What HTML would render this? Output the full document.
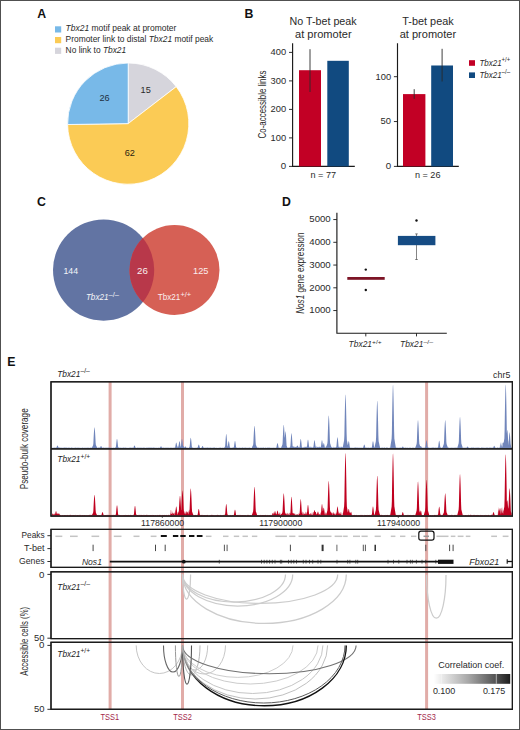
<!DOCTYPE html>
<html><head><meta charset="utf-8"><style>
html,body{margin:0;padding:0;background:#fff;}
svg{display:block;font-family:"Liberation Sans", sans-serif;}
</style></head><body>
<svg width="520" height="730" viewBox="0 0 520 730">
<rect width="520" height="730" fill="#fff"/>
<text x="37.20" y="17.50" font-size="12.3" font-weight="bold" fill="#111" >A</text>
<rect x="55" y="26.3" width="6.2" height="6.2" fill="#78b9e8"/>
<text x="65.60" y="31.30" font-size="8.8" fill="#2a2a2a" textLength="110.70" lengthAdjust="spacingAndGlyphs" ><tspan font-style="italic">Tbx21</tspan> motif peak at promoter</text>
<rect x="55" y="37.0" width="6.2" height="6.2" fill="#fbcb55"/>
<text x="65.60" y="42.10" font-size="8.8" fill="#2a2a2a" textLength="147.60" lengthAdjust="spacingAndGlyphs" >Promoter link to distal <tspan font-style="italic">Tbx21</tspan> motif peak</text>
<rect x="55" y="47.7" width="6.2" height="6.2" fill="#d6d5dc"/>
<text x="65.60" y="52.90" font-size="8.8" fill="#2a2a2a" textLength="60.60" lengthAdjust="spacingAndGlyphs" >No link to <tspan font-style="italic">Tbx21</tspan></text>
<path d="M128.2,123.6 L128.20,63.00 A60.6,60.6 0 0 1 176.23,86.65 Z" fill="#d6d5dc" stroke="#fff" stroke-width="0.8"/>
<path d="M128.2,123.6 L176.23,86.65 A60.6,60.6 0 1 1 67.61,124.52 Z" fill="#fbcb55" stroke="#fff" stroke-width="0.8"/>
<path d="M128.2,123.6 L67.61,124.52 A60.6,60.6 0 0 1 128.20,63.00 Z" fill="#78b9e8" stroke="#fff" stroke-width="0.8"/>
<text x="104.60" y="100.50" font-size="9.4" text-anchor="middle" fill="#223040" textLength="10.20" lengthAdjust="spacingAndGlyphs" >26</text>
<text x="145.70" y="93.40" font-size="9.4" text-anchor="middle" fill="#2a2a2a" textLength="10.20" lengthAdjust="spacingAndGlyphs" >15</text>
<text x="129.80" y="156.30" font-size="9.4" text-anchor="middle" fill="#2a2410" textLength="10.20" lengthAdjust="spacingAndGlyphs" >62</text>
<text x="244.40" y="17.50" font-size="12.3" font-weight="bold" fill="#111" >B</text>
<path d="M292.6,43.3 V166.4 H354.8" fill="none" stroke="#1a1a1a" stroke-width="1.15"/>
<line x1="289.0" y1="166.40" x2="292.6" y2="166.40" stroke="#1a1a1a" stroke-width="0.9"/>
<text x="286.20" y="169.20" font-size="9.4" text-anchor="end" fill="#2a2a2a" textLength="5.40" lengthAdjust="spacingAndGlyphs" >0</text>
<line x1="289.0" y1="137.90" x2="292.6" y2="137.90" stroke="#1a1a1a" stroke-width="0.9"/>
<text x="286.20" y="140.70" font-size="9.4" text-anchor="end" fill="#2a2a2a" textLength="15.60" lengthAdjust="spacingAndGlyphs" >100</text>
<line x1="289.0" y1="109.40" x2="292.6" y2="109.40" stroke="#1a1a1a" stroke-width="0.9"/>
<text x="286.20" y="112.20" font-size="9.4" text-anchor="end" fill="#2a2a2a" textLength="15.60" lengthAdjust="spacingAndGlyphs" >200</text>
<line x1="289.0" y1="80.90" x2="292.6" y2="80.90" stroke="#1a1a1a" stroke-width="0.9"/>
<text x="286.20" y="83.70" font-size="9.4" text-anchor="end" fill="#2a2a2a" textLength="15.60" lengthAdjust="spacingAndGlyphs" >300</text>
<line x1="289.0" y1="52.40" x2="292.6" y2="52.40" stroke="#1a1a1a" stroke-width="0.9"/>
<text x="286.20" y="55.20" font-size="9.4" text-anchor="end" fill="#2a2a2a" textLength="15.60" lengthAdjust="spacingAndGlyphs" >400</text>
<rect x="299.0" y="70.21" width="22.0" height="96.19" fill="#c20025"/>
<line x1="310.0" y1="49.2" x2="310.0" y2="92.0" stroke="#2a2a2a" stroke-width="0.9"/>
<rect x="327.3" y="60.81" width="21.5" height="105.59" fill="#114a80"/>
<text x="289.60" y="25.00" font-size="11.0" fill="#2a2a2a" textLength="67.00" lengthAdjust="spacingAndGlyphs" >No T-bet peak</text>
<text x="295.00" y="37.50" font-size="11.0" fill="#2a2a2a" textLength="56.60" lengthAdjust="spacingAndGlyphs" >at promoter</text>
<text x="323.30" y="177.80" font-size="9.0" text-anchor="middle" fill="#2a2a2a" textLength="25.60" lengthAdjust="spacingAndGlyphs" >n = 77</text>
<path d="M397.5,43.3 V166.4 H458.8" fill="none" stroke="#1a1a1a" stroke-width="1.15"/>
<line x1="393.9" y1="166.40" x2="397.5" y2="166.40" stroke="#1a1a1a" stroke-width="0.9"/>
<text x="391.10" y="169.20" font-size="9.4" text-anchor="end" fill="#2a2a2a" textLength="5.40" lengthAdjust="spacingAndGlyphs" >0</text>
<line x1="393.9" y1="121.55" x2="397.5" y2="121.55" stroke="#1a1a1a" stroke-width="0.9"/>
<text x="391.10" y="124.35" font-size="9.4" text-anchor="end" fill="#2a2a2a" textLength="10.50" lengthAdjust="spacingAndGlyphs" >50</text>
<line x1="393.9" y1="76.70" x2="397.5" y2="76.70" stroke="#1a1a1a" stroke-width="0.9"/>
<text x="391.10" y="79.50" font-size="9.4" text-anchor="end" fill="#2a2a2a" textLength="15.60" lengthAdjust="spacingAndGlyphs" >100</text>
<rect x="403.0" y="94.10" width="22.399999999999977" height="72.30" fill="#c20025"/>
<line x1="414.2" y1="89.2" x2="414.2" y2="98.8" stroke="#2a2a2a" stroke-width="0.9"/>
<rect x="431.2" y="65.49" width="21.80000000000001" height="100.91" fill="#114a80"/>
<line x1="442.1" y1="48.8" x2="442.1" y2="81.5" stroke="#2a2a2a" stroke-width="0.9"/>
<text x="402.30" y="25.00" font-size="11.0" fill="#2a2a2a" textLength="51.40" lengthAdjust="spacingAndGlyphs" >T-bet peak</text>
<text x="399.70" y="37.50" font-size="11.0" fill="#2a2a2a" textLength="56.40" lengthAdjust="spacingAndGlyphs" >at promoter</text>
<text x="427.70" y="177.80" font-size="9.0" text-anchor="middle" fill="#2a2a2a" textLength="25.60" lengthAdjust="spacingAndGlyphs" >n = 26</text>
<text transform="translate(265.90,104.50) rotate(-90)" font-size="10.3" text-anchor="middle" fill="#2a2a2a" textLength="67.9" lengthAdjust="spacingAndGlyphs">Co-accessible links</text>
<rect x="469" y="60.2" width="6" height="5.6" fill="#c20025"/>
<rect x="469" y="72.4" width="6" height="5.6" fill="#114a80"/>
<text x="479.40" y="65.70" font-size="9.0" font-style="italic" fill="#2a2a2a" text-anchor="start"><tspan textLength="22.20" lengthAdjust="spacingAndGlyphs">Tbx21</tspan><tspan font-size="6.30" dy="-3.60" font-style="normal" textLength="8.60" lengthAdjust="spacingAndGlyphs">+/+</tspan></text>
<text x="479.40" y="77.90" font-size="9.0" font-style="italic" fill="#2a2a2a" text-anchor="start"><tspan textLength="22.20" lengthAdjust="spacingAndGlyphs">Tbx21</tspan><tspan font-size="6.30" dy="-3.60" font-style="normal" textLength="8.60" lengthAdjust="spacingAndGlyphs">–/–</tspan></text>
<text x="37.00" y="205.60" font-size="12.3" font-weight="bold" fill="#111" >C</text>
<circle cx="103.6" cy="270.1" r="50.6" fill="#6274a3"/>
<circle cx="174.5" cy="270" r="45" fill="#d66055"/>
<clipPath id="cb"><circle cx="103.6" cy="270.1" r="50.6"/></clipPath>
<circle cx="174.5" cy="270" r="45" fill="#b8384a" clip-path="url(#cb)"/>
<text x="70.80" y="273.90" font-size="9.4" text-anchor="middle" fill="#f4f4f8" textLength="14.60" lengthAdjust="spacingAndGlyphs" >144</text>
<text x="142.40" y="273.90" font-size="9.4" text-anchor="middle" fill="#f8eeee" textLength="10.80" lengthAdjust="spacingAndGlyphs" >26</text>
<text x="200.70" y="273.90" font-size="9.4" text-anchor="middle" fill="#fbeeee" textLength="15.40" lengthAdjust="spacingAndGlyphs" >125</text>
<text x="85.90" y="300.40" font-size="9.2" font-style="italic" fill="#f4f4f8" text-anchor="start"><tspan textLength="22.60" lengthAdjust="spacingAndGlyphs">Tbx21</tspan><tspan font-size="6.44" dy="-3.68" font-style="normal" textLength="10.40" lengthAdjust="spacingAndGlyphs">–/–</tspan></text>
<text x="157.80" y="300.40" font-size="9.2" font-style="normal" fill="#fbeeee" text-anchor="start"><tspan textLength="22.60" lengthAdjust="spacingAndGlyphs">Tbx21</tspan><tspan font-size="6.44" dy="-3.68" font-style="normal" textLength="10.80" lengthAdjust="spacingAndGlyphs">+/+</tspan></text>
<text x="282.00" y="205.60" font-size="12.3" font-weight="bold" fill="#111" >D</text>
<path d="M336.9,212.8 V333.2 H446.8" fill="none" stroke="#1a1a1a" stroke-width="1.15"/>
<line x1="333.29999999999995" y1="310.55" x2="336.9" y2="310.55" stroke="#1a1a1a" stroke-width="0.9"/>
<text x="330.70" y="313.35" font-size="9.4" text-anchor="end" fill="#2a2a2a" textLength="21.40" lengthAdjust="spacingAndGlyphs" >1000</text>
<line x1="333.29999999999995" y1="287.80" x2="336.9" y2="287.80" stroke="#1a1a1a" stroke-width="0.9"/>
<text x="330.70" y="290.60" font-size="9.4" text-anchor="end" fill="#2a2a2a" textLength="21.40" lengthAdjust="spacingAndGlyphs" >2000</text>
<line x1="333.29999999999995" y1="265.05" x2="336.9" y2="265.05" stroke="#1a1a1a" stroke-width="0.9"/>
<text x="330.70" y="267.85" font-size="9.4" text-anchor="end" fill="#2a2a2a" textLength="21.40" lengthAdjust="spacingAndGlyphs" >3000</text>
<line x1="333.29999999999995" y1="242.30" x2="336.9" y2="242.30" stroke="#1a1a1a" stroke-width="0.9"/>
<text x="330.70" y="245.10" font-size="9.4" text-anchor="end" fill="#2a2a2a" textLength="21.40" lengthAdjust="spacingAndGlyphs" >4000</text>
<line x1="333.29999999999995" y1="219.55" x2="336.9" y2="219.55" stroke="#1a1a1a" stroke-width="0.9"/>
<text x="330.70" y="222.35" font-size="9.4" text-anchor="end" fill="#2a2a2a" textLength="21.40" lengthAdjust="spacingAndGlyphs" >5000</text>
<line x1="365.8" y1="333.2" x2="365.8" y2="336.4" stroke="#1a1a1a" stroke-width="0.9"/>
<line x1="416.5" y1="333.2" x2="416.5" y2="336.4" stroke="#1a1a1a" stroke-width="0.9"/>
<text transform="translate(304.30,273.20) rotate(-90)" font-size="10.3" text-anchor="middle" fill="#2a2a2a" textLength="81.3" lengthAdjust="spacingAndGlyphs"><tspan font-style="italic">Nos1</tspan> gene expression</text>
<rect x="347.3" y="277" width="37.4" height="2.8" fill="#7d1426"/>
<circle cx="365.8" cy="269.6" r="1.2" fill="#111"/>
<circle cx="365.8" cy="290.0" r="1.2" fill="#111"/>
<circle cx="416.5" cy="220.5" r="1.2" fill="#111"/>
<line x1="416.5" y1="233.9" x2="416.5" y2="259.5" stroke="#333" stroke-width="0.6"/>
<line x1="415.2" y1="233.9" x2="417.8" y2="233.9" stroke="#333" stroke-width="0.6"/>
<line x1="415.2" y1="259.5" x2="417.8" y2="259.5" stroke="#333" stroke-width="0.6"/>
<rect x="397.9" y="235.9" width="37.5" height="9.3" fill="#164c84"/>
<text x="348.60" y="347.10" font-size="8.8" font-style="italic" fill="#2a2a2a" text-anchor="start"><tspan textLength="23.40" lengthAdjust="spacingAndGlyphs">Tbx21</tspan><tspan font-size="6.16" dy="-3.52" font-style="normal" textLength="9.60" lengthAdjust="spacingAndGlyphs">+/+</tspan></text>
<text x="400.00" y="347.10" font-size="8.8" font-style="italic" fill="#2a2a2a" text-anchor="start"><tspan textLength="23.40" lengthAdjust="spacingAndGlyphs">Tbx21</tspan><tspan font-size="6.16" dy="-3.52" font-style="normal" textLength="9.60" lengthAdjust="spacingAndGlyphs">–/–</tspan></text>
<text x="7.30" y="365.50" font-size="12.3" font-weight="bold" fill="#111" >E</text>
<text x="57.20" y="376.70" font-size="9.4" font-style="italic" fill="#1c1c1c" text-anchor="start"><tspan textLength="23.20" lengthAdjust="spacingAndGlyphs">Tbx21</tspan><tspan font-size="6.58" dy="-3.76" font-style="normal" textLength="9.40" lengthAdjust="spacingAndGlyphs">–/–</tspan></text>
<text x="510.30" y="377.70" font-size="8.9" text-anchor="end" fill="#2a2a2a" textLength="17.20" lengthAdjust="spacingAndGlyphs" >chr5</text>
<rect x="108.6" y="381.8" width="3" height="327.6" fill="#e1aca8"/>
<rect x="181.0" y="381.8" width="3" height="327.6" fill="#e1aca8"/>
<rect x="425.1" y="381.8" width="3" height="327.6" fill="#e1aca8"/>
<path d="M51.6,448.2 L51.60,447.82 L51.85,447.69 L52.10,447.76 L52.35,447.67 L52.60,447.66 L52.85,447.89 L53.10,447.91 L53.35,447.57 L53.60,447.81 L53.85,447.82 L54.10,447.50 L54.35,447.72 L54.60,447.57 L54.85,447.72 L55.10,447.65 L55.35,447.86 L55.60,447.65 L55.85,447.56 L56.10,447.70 L56.35,447.61 L56.60,447.32 L56.85,446.58 L57.10,446.00 L57.35,445.60 L57.60,445.55 L57.85,445.90 L58.10,446.45 L58.35,447.16 L58.60,447.62 L58.85,447.55 L59.10,447.62 L59.35,447.53 L59.60,447.75 L59.85,447.58 L60.10,447.73 L60.35,447.53 L60.60,447.55 L60.85,447.88 L61.10,447.86 L61.35,447.83 L61.60,447.51 L61.85,447.74 L62.10,447.66 L62.35,447.79 L62.60,447.71 L62.85,447.76 L63.10,447.77 L63.35,447.67 L63.60,447.67 L63.85,447.54 L64.10,447.63 L64.35,447.53 L64.60,447.56 L64.85,447.50 L65.10,447.64 L65.35,447.85 L65.60,447.56 L65.85,447.51 L66.10,447.54 L66.35,447.68 L66.60,447.62 L66.85,447.83 L67.10,447.57 L67.35,447.68 L67.60,447.80 L67.85,447.89 L68.10,447.56 L68.35,447.50 L68.60,447.88 L68.85,447.58 L69.10,447.75 L69.35,447.86 L69.60,447.80 L69.85,447.60 L70.10,447.55 L70.35,447.90 L70.60,447.66 L70.85,447.90 L71.10,447.62 L71.35,447.78 L71.60,447.55 L71.85,447.51 L72.10,447.71 L72.35,447.50 L72.60,447.79 L72.85,447.89 L73.10,447.67 L73.35,447.91 L73.60,447.84 L73.85,447.75 L74.10,447.66 L74.35,447.85 L74.60,447.90 L74.85,447.56 L75.10,447.79 L75.35,447.52 L75.60,447.54 L75.85,447.76 L76.10,447.73 L76.35,447.70 L76.60,447.65 L76.85,447.67 L77.10,447.69 L77.35,447.66 L77.60,447.52 L77.85,447.71 L78.10,447.74 L78.35,447.62 L78.60,447.82 L78.85,447.79 L79.10,447.51 L79.35,447.70 L79.60,447.69 L79.85,447.92 L80.10,447.75 L80.35,447.68 L80.60,447.91 L80.85,447.66 L81.10,447.65 L81.35,447.89 L81.60,447.66 L81.85,447.72 L82.10,447.63 L82.35,447.77 L82.60,447.62 L82.85,447.61 L83.10,447.91 L83.35,447.89 L83.60,447.64 L83.85,447.52 L84.10,447.81 L84.35,447.73 L84.60,447.67 L84.85,447.79 L85.10,447.77 L85.35,447.79 L85.60,447.76 L85.85,447.67 L86.10,447.79 L86.35,447.76 L86.60,447.60 L86.85,447.91 L87.10,447.68 L87.35,447.61 L87.60,447.79 L87.85,447.83 L88.10,447.58 L88.35,447.82 L88.60,447.84 L88.85,447.74 L89.10,447.63 L89.35,447.88 L89.60,447.78 L89.85,447.78 L90.10,447.57 L90.35,447.74 L90.60,447.56 L90.85,447.85 L91.10,447.78 L91.35,447.65 L91.60,447.55 L91.85,447.69 L92.10,447.18 L92.35,446.66 L92.60,446.15 L92.85,445.64 L93.10,445.13 L93.35,443.40 L93.60,438.08 L93.85,433.58 L94.10,430.03 L94.35,427.63 L94.60,427.33 L94.85,429.45 L95.10,432.79 L95.35,437.11 L95.60,442.28 L95.85,445.03 L96.10,445.54 L96.35,446.05 L96.60,446.56 L96.85,447.07 L97.10,447.53 L97.35,447.85 L97.60,447.92 L97.85,447.52 L98.10,447.55 L98.35,447.51 L98.60,447.74 L98.85,447.52 L99.10,447.53 L99.35,447.83 L99.60,447.61 L99.85,447.57 L100.10,447.49 L100.35,446.88 L100.60,446.41 L100.85,446.08 L101.10,446.04 L101.35,446.33 L101.60,446.78 L101.85,447.36 L102.10,447.58 L102.35,447.90 L102.60,447.54 L102.85,447.63 L103.10,447.53 L103.35,447.54 L103.60,447.54 L103.85,447.68 L104.10,447.91 L104.35,447.61 L104.60,447.85 L104.85,447.79 L105.10,447.64 L105.35,447.70 L105.60,447.75 L105.85,447.53 L106.10,447.66 L106.35,447.78 L106.60,447.81 L106.85,447.56 L107.10,447.72 L107.35,447.59 L107.60,447.77 L107.85,447.84 L108.10,447.70 L108.35,447.58 L108.60,447.85 L108.85,447.59 L109.10,447.53 L109.35,447.58 L109.60,447.57 L109.85,447.92 L110.10,447.66 L110.35,447.56 L110.60,447.90 L110.85,447.81 L111.10,447.81 L111.35,447.70 L111.60,447.74 L111.85,447.72 L112.10,447.59 L112.35,447.92 L112.60,447.90 L112.85,447.87 L113.10,447.87 L113.35,447.89 L113.60,447.51 L113.85,447.56 L114.10,447.88 L114.35,447.71 L114.60,447.79 L114.85,447.79 L115.10,447.77 L115.35,447.53 L115.60,447.23 L115.85,446.93 L116.10,445.12 L116.35,442.51 L116.60,440.45 L116.85,439.07 L117.10,438.89 L117.35,440.12 L117.60,442.05 L117.85,444.56 L118.10,446.87 L118.35,447.17 L118.60,447.47 L118.85,447.76 L119.10,447.58 L119.35,447.66 L119.60,447.74 L119.85,447.76 L120.10,447.71 L120.35,447.62 L120.60,447.74 L120.85,447.63 L121.10,447.73 L121.35,447.82 L121.60,447.69 L121.85,447.63 L122.10,447.89 L122.35,447.74 L122.60,447.74 L122.85,447.55 L123.10,447.53 L123.35,447.76 L123.60,447.54 L123.85,447.59 L124.10,447.81 L124.35,447.73 L124.60,447.87 L124.85,447.58 L125.10,447.64 L125.35,447.55 L125.60,447.59 L125.85,447.64 L126.10,447.61 L126.35,447.68 L126.60,447.88 L126.85,447.67 L127.10,447.92 L127.35,447.86 L127.60,447.59 L127.85,447.90 L128.10,447.88 L128.35,447.88 L128.60,447.55 L128.85,447.84 L129.10,447.91 L129.35,447.57 L129.60,447.87 L129.85,447.57 L130.10,447.64 L130.35,447.57 L130.60,447.52 L130.85,447.68 L131.10,447.58 L131.35,447.90 L131.60,447.60 L131.85,447.71 L132.10,447.62 L132.35,447.88 L132.60,447.61 L132.85,447.53 L133.10,447.89 L133.35,447.78 L133.60,447.32 L133.85,446.58 L134.10,446.00 L134.35,445.60 L134.60,445.55 L134.85,445.90 L135.10,446.45 L135.35,447.16 L135.60,447.77 L135.85,447.75 L136.10,447.77 L136.35,447.74 L136.60,447.89 L136.85,447.71 L137.10,447.51 L137.35,447.75 L137.60,447.61 L137.85,447.85 L138.10,447.63 L138.35,447.60 L138.60,447.64 L138.85,447.70 L139.10,447.72 L139.35,447.65 L139.60,447.54 L139.85,447.86 L140.10,447.88 L140.35,447.61 L140.60,447.54 L140.85,447.70 L141.10,447.73 L141.35,447.62 L141.60,447.84 L141.85,447.81 L142.10,447.84 L142.35,447.67 L142.60,447.79 L142.85,447.82 L143.10,447.63 L143.35,447.52 L143.60,447.80 L143.85,447.62 L144.10,447.75 L144.35,447.56 L144.60,447.67 L144.85,447.81 L145.10,447.83 L145.35,447.91 L145.60,447.72 L145.85,447.76 L146.10,447.85 L146.35,447.77 L146.60,447.78 L146.85,447.59 L147.10,447.86 L147.35,447.50 L147.60,447.72 L147.85,447.67 L148.10,447.72 L148.35,447.57 L148.60,447.57 L148.85,447.69 L149.10,447.72 L149.35,447.62 L149.60,447.56 L149.85,447.75 L150.10,447.61 L150.35,447.52 L150.60,447.72 L150.85,447.82 L151.10,447.82 L151.35,447.62 L151.60,447.64 L151.85,447.52 L152.10,447.56 L152.35,447.82 L152.60,447.84 L152.85,447.81 L153.10,447.84 L153.35,447.62 L153.60,447.56 L153.85,447.54 L154.10,447.81 L154.35,447.56 L154.60,447.79 L154.85,447.74 L155.10,447.61 L155.35,447.88 L155.60,447.88 L155.85,447.57 L156.10,447.80 L156.35,447.77 L156.60,447.68 L156.85,447.64 L157.10,447.92 L157.35,447.78 L157.60,447.74 L157.85,447.72 L158.10,447.83 L158.35,447.67 L158.60,447.52 L158.85,447.76 L159.10,447.69 L159.35,447.87 L159.60,447.80 L159.85,447.64 L160.10,447.58 L160.35,447.06 L160.60,446.65 L160.85,446.37 L161.10,446.34 L161.35,446.58 L161.60,446.97 L161.85,447.47 L162.10,447.80 L162.35,447.64 L162.60,447.65 L162.85,447.58 L163.10,447.81 L163.35,447.60 L163.60,447.52 L163.85,447.64 L164.10,447.69 L164.35,447.87 L164.60,447.71 L164.85,447.77 L165.10,447.62 L165.35,447.64 L165.60,447.68 L165.85,447.84 L166.10,447.65 L166.35,447.66 L166.60,447.84 L166.85,447.55 L167.10,447.64 L167.35,447.87 L167.60,447.53 L167.85,447.86 L168.10,447.78 L168.35,447.62 L168.60,447.67 L168.85,447.69 L169.10,447.65 L169.35,447.73 L169.60,447.79 L169.85,447.85 L170.10,447.89 L170.35,447.62 L170.60,447.60 L170.85,447.69 L171.10,447.61 L171.35,447.77 L171.60,447.81 L171.85,447.76 L172.10,447.55 L172.35,447.90 L172.60,447.71 L172.85,447.82 L173.10,447.60 L173.35,447.77 L173.60,447.78 L173.85,447.75 L174.10,447.69 L174.35,447.60 L174.60,447.77 L174.85,447.56 L175.10,447.39 L175.35,446.35 L175.60,444.79 L175.85,443.55 L176.10,442.72 L176.35,442.61 L176.60,443.35 L176.85,444.51 L177.10,446.01 L177.35,447.40 L177.60,447.58 L177.85,445.53 L178.10,447.05 L178.35,446.45 L178.60,445.27 L178.85,443.89 L179.10,442.33 L179.35,441.28 L179.60,441.14 L179.85,442.07 L180.10,443.54 L180.35,445.44 L180.60,446.70 L180.85,446.87 L181.10,445.13 L181.35,442.54 L181.60,440.49 L181.85,439.11 L182.10,438.94 L182.35,440.16 L182.60,442.09 L182.85,444.58 L183.10,446.40 L183.35,446.05 L183.60,447.17 L183.85,445.40 L184.10,446.89 L184.35,446.74 L184.60,447.87 L184.85,447.60 L185.10,446.71 L185.35,446.59 L185.60,446.25 L185.85,446.81 L186.10,447.60 L186.35,447.75 L186.60,447.84 L186.85,447.54 L187.10,447.62 L187.35,447.77 L187.60,447.76 L187.85,447.70 L188.10,447.67 L188.35,447.83 L188.60,447.92 L188.85,447.79 L189.10,447.45 L189.35,447.11 L189.60,446.77 L189.85,444.73 L190.10,441.79 L190.35,439.47 L190.60,437.91 L190.85,437.71 L191.10,439.10 L191.35,441.28 L191.60,444.10 L191.85,446.70 L192.10,447.04 L192.35,447.38 L192.60,447.72 L192.85,447.75 L193.10,447.62 L193.35,447.90 L193.60,447.75 L193.85,447.75 L194.10,447.91 L194.35,447.51 L194.60,447.83 L194.85,447.88 L195.10,447.72 L195.35,447.85 L195.60,447.66 L195.85,447.77 L196.10,447.87 L196.35,447.90 L196.60,447.61 L196.85,447.80 L197.10,447.59 L197.35,447.72 L197.60,447.53 L197.85,447.00 L198.10,445.99 L198.35,445.18 L198.60,444.64 L198.85,444.57 L199.10,445.05 L199.35,445.81 L199.60,446.78 L199.85,447.51 L200.10,447.67 L200.35,447.92 L200.60,447.91 L200.85,447.88 L201.10,447.85 L201.35,447.90 L201.60,447.49 L201.85,446.88 L202.10,446.41 L202.35,446.08 L202.60,446.04 L202.85,446.33 L203.10,446.78 L203.35,447.36 L203.60,447.53 L203.85,447.91 L204.10,447.79 L204.35,447.67 L204.60,447.52 L204.85,447.88 L205.10,447.80 L205.35,447.56 L205.60,447.87 L205.85,447.76 L206.10,447.78 L206.35,447.63 L206.60,447.53 L206.85,447.85 L207.10,447.61 L207.35,447.61 L207.60,447.57 L207.85,447.69 L208.10,447.53 L208.35,447.77 L208.60,447.75 L208.85,447.82 L209.10,447.59 L209.35,447.72 L209.60,447.81 L209.85,447.85 L210.10,447.62 L210.35,447.67 L210.60,447.62 L210.85,447.76 L211.10,447.72 L211.35,447.86 L211.60,447.62 L211.85,447.91 L212.10,447.72 L212.35,447.60 L212.60,447.64 L212.85,447.88 L213.10,447.82 L213.35,447.57 L213.60,447.65 L213.85,447.55 L214.10,447.55 L214.35,447.73 L214.60,447.54 L214.85,447.61 L215.10,447.78 L215.35,447.76 L215.60,447.89 L215.85,447.75 L216.10,447.52 L216.35,447.88 L216.60,447.68 L216.85,447.87 L217.10,447.89 L217.35,447.65 L217.60,447.82 L217.85,447.90 L218.10,447.86 L218.35,447.65 L218.60,447.67 L218.85,447.92 L219.10,447.82 L219.35,447.51 L219.60,447.83 L219.85,447.68 L220.10,447.74 L220.35,447.59 L220.60,447.67 L220.85,447.59 L221.10,447.70 L221.35,447.84 L221.60,447.85 L221.85,447.89 L222.10,447.57 L222.35,447.87 L222.60,447.91 L222.85,447.51 L223.10,447.84 L223.35,447.54 L223.60,447.88 L223.85,447.72 L224.10,447.83 L224.35,447.57 L224.60,447.19 L224.85,446.73 L225.10,446.27 L225.35,443.51 L225.60,439.55 L225.85,436.42 L226.10,434.31 L226.35,434.04 L226.60,435.90 L226.85,438.85 L227.10,442.66 L227.35,446.18 L227.60,446.64 L227.85,445.86 L228.10,443.89 L228.35,442.33 L228.60,441.28 L228.85,441.14 L229.10,442.07 L229.35,443.54 L229.60,445.44 L229.85,447.19 L230.10,447.42 L230.35,447.65 L230.60,447.83 L230.85,447.77 L231.10,447.50 L231.35,447.78 L231.60,447.74 L231.85,447.88 L232.10,447.83 L232.35,447.85 L232.60,447.53 L232.85,447.61 L233.10,447.55 L233.35,447.51 L233.60,447.44 L233.85,447.20 L234.10,445.78 L234.35,443.74 L234.60,442.13 L234.85,441.04 L235.10,440.90 L235.35,441.86 L235.60,443.38 L235.85,445.34 L236.10,447.16 L236.35,447.39 L236.60,447.63 L236.85,447.53 L237.10,447.84 L237.35,447.88 L237.60,447.62 L237.85,447.80 L238.10,447.70 L238.35,447.65 L238.60,447.90 L238.85,447.61 L239.10,447.80 L239.35,447.74 L239.60,447.78 L239.85,447.61 L240.10,447.61 L240.35,447.80 L240.60,447.88 L240.85,447.79 L241.10,447.75 L241.35,447.89 L241.60,447.86 L241.85,447.60 L242.10,447.63 L242.35,447.51 L242.60,447.51 L242.85,447.55 L243.10,447.76 L243.35,447.85 L243.60,447.79 L243.85,447.73 L244.10,447.70 L244.35,447.69 L244.60,447.77 L244.85,447.56 L245.10,447.80 L245.35,447.73 L245.60,447.55 L245.85,447.58 L246.10,447.80 L246.35,447.82 L246.60,447.58 L246.85,447.92 L247.10,447.86 L247.35,447.70 L247.60,447.69 L247.85,447.85 L248.10,447.90 L248.35,447.83 L248.60,447.60 L248.85,447.72 L249.10,447.51 L249.35,447.59 L249.60,447.51 L249.85,447.91 L250.10,447.84 L250.35,447.91 L250.60,447.74 L250.85,447.78 L251.10,447.90 L251.35,447.69 L251.60,447.88 L251.85,447.65 L252.10,447.10 L252.35,446.56 L252.60,446.01 L252.85,445.46 L253.10,444.91 L253.35,443.06 L253.60,437.37 L253.85,432.55 L254.10,428.74 L254.35,426.17 L254.60,425.85 L254.85,428.12 L255.10,431.70 L255.35,436.33 L255.60,441.86 L255.85,444.80 L256.10,445.35 L256.35,445.90 L256.60,446.45 L256.85,446.99 L257.10,447.54 L257.35,447.54 L257.60,447.54 L257.85,447.72 L258.10,447.64 L258.35,447.53 L258.60,447.58 L258.85,447.67 L259.10,447.75 L259.35,447.70 L259.60,447.85 L259.85,447.84 L260.10,447.63 L260.35,447.50 L260.60,447.69 L260.85,447.75 L261.10,447.77 L261.35,447.73 L261.60,447.58 L261.85,447.73 L262.10,447.52 L262.35,447.85 L262.60,447.79 L262.85,447.70 L263.10,447.75 L263.35,447.56 L263.60,447.57 L263.85,447.53 L264.10,447.66 L264.35,447.91 L264.60,447.68 L264.85,447.69 L265.10,447.72 L265.35,447.80 L265.60,447.62 L265.85,447.54 L266.10,447.88 L266.35,447.64 L266.60,447.76 L266.85,447.70 L267.10,447.54 L267.35,447.52 L267.60,447.65 L267.85,447.84 L268.10,447.53 L268.35,447.84 L268.60,447.76 L268.85,447.57 L269.10,447.79 L269.35,447.81 L269.60,447.52 L269.85,447.52 L270.10,447.79 L270.35,447.76 L270.60,447.80 L270.85,447.86 L271.10,447.81 L271.35,447.51 L271.60,447.89 L271.85,447.82 L272.10,447.84 L272.35,447.89 L272.60,447.70 L272.85,447.61 L273.10,447.57 L273.35,447.65 L273.60,447.58 L273.85,447.92 L274.10,447.80 L274.35,447.52 L274.60,447.89 L274.85,447.81 L275.10,447.72 L275.35,447.81 L275.60,447.69 L275.85,447.84 L276.10,447.67 L276.35,447.51 L276.60,446.51 L276.85,445.09 L277.10,443.96 L277.35,443.20 L277.60,443.10 L277.85,443.78 L278.10,444.84 L278.35,446.21 L278.60,447.47 L278.85,447.64 L279.10,447.80 L279.35,447.57 L279.60,447.55 L279.85,447.90 L280.10,447.52 L280.35,447.70 L280.60,447.76 L280.85,447.88 L281.10,447.63 L281.35,447.06 L281.60,446.48 L281.85,445.91 L282.10,445.34 L282.35,444.77 L282.60,442.84 L282.85,436.89 L283.10,431.86 L283.35,427.88 L283.60,425.20 L283.85,424.87 L284.10,427.23 L284.35,430.98 L284.60,435.81 L284.85,437.90 L285.10,434.17 L285.35,431.66 L285.60,431.35 L285.85,433.56 L286.10,437.07 L286.35,441.60 L286.60,445.79 L286.85,446.34 L287.10,446.89 L287.35,447.43 L287.60,447.73 L287.85,447.70 L288.10,447.57 L288.35,447.84 L288.60,447.67 L288.85,447.53 L289.10,447.56 L289.35,447.84 L289.60,447.52 L289.85,447.14 L290.10,446.65 L290.35,446.17 L290.60,443.27 L290.85,439.10 L291.10,435.81 L291.35,433.58 L291.60,433.31 L291.85,435.27 L292.10,438.37 L292.35,442.37 L292.60,446.07 L292.85,446.56 L293.10,447.00 L293.35,446.33 L293.60,446.53 L293.85,446.25 L294.10,447.81 L294.35,446.74 L294.60,446.91 L294.85,446.27 L295.10,447.24 L295.35,446.45 L295.60,447.14 L295.85,446.96 L296.10,447.35 L296.35,446.65 L296.60,446.49 L296.85,446.24 L297.10,446.00 L297.35,445.60 L297.60,445.55 L297.85,445.90 L298.10,446.45 L298.35,447.16 L298.60,446.45 L298.85,447.67 L299.10,447.46 L299.35,447.24 L299.60,446.94 L299.85,445.13 L300.10,442.54 L300.35,440.49 L300.60,439.11 L300.85,438.94 L301.10,440.16 L301.35,442.09 L301.60,444.58 L301.85,446.88 L302.10,447.00 L302.35,447.48 L302.60,447.77 L302.85,447.57 L303.10,447.42 L303.35,447.34 L303.60,446.88 L303.85,447.74 L304.10,446.82 L304.35,447.32 L304.60,446.22 L304.85,447.89 L305.10,447.36 L305.35,446.55 L305.60,447.36 L305.85,446.43 L306.10,447.42 L306.35,446.92 L306.60,446.33 L306.85,447.04 L307.10,445.38 L307.35,442.99 L307.60,441.11 L307.85,439.83 L308.10,439.67 L308.35,440.80 L308.60,442.57 L308.85,444.86 L309.10,446.38 L309.35,446.72 L309.60,447.54 L309.85,447.58 L310.10,446.46 L310.35,446.55 L310.60,447.53 L310.85,447.41 L311.10,447.83 L311.35,447.20 L311.60,446.50 L311.85,447.57 L312.10,447.42 L312.35,447.70 L312.60,446.81 L312.85,447.63 L313.10,447.32 L313.35,447.10 L313.60,445.54 L313.85,443.29 L314.10,441.51 L314.35,440.32 L314.60,440.16 L314.85,441.22 L315.10,442.90 L315.35,445.06 L315.60,446.40 L315.85,447.31 L316.10,446.23 L316.35,446.21 L316.60,447.72 L316.85,447.52 L317.10,447.03 L317.35,447.14 L317.60,447.24 L317.85,446.47 L318.10,447.21 L318.35,446.55 L318.60,447.83 L318.85,447.09 L319.10,446.42 L319.35,447.12 L319.60,446.53 L319.85,447.61 L320.10,446.84 L320.35,447.50 L320.60,447.07 L320.85,446.80 L321.10,445.54 L321.35,443.29 L321.60,441.51 L321.85,440.32 L322.10,440.16 L322.35,441.22 L322.60,442.90 L322.85,445.06 L323.10,445.09 L323.35,443.96 L323.60,443.20 L323.85,443.10 L324.10,443.78 L324.35,444.84 L324.60,446.21 L324.85,447.47 L325.10,447.52 L325.35,447.18 L325.60,447.75 L325.85,446.62 L326.10,446.39 L326.35,446.60 L326.60,445.80 L326.85,444.99 L327.10,444.19 L327.35,443.39 L327.60,440.69 L327.85,432.35 L328.10,425.31 L328.35,419.74 L328.60,415.99 L328.85,415.52 L329.10,418.83 L329.35,424.07 L329.60,430.84 L329.85,438.92 L330.10,443.23 L330.35,444.03 L330.60,444.83 L330.85,445.64 L331.10,446.24 L331.35,447.23 L331.60,447.61 L331.85,446.86 L332.10,447.67 L332.35,446.95 L332.60,447.55 L332.85,447.92 L333.10,447.42 L333.35,446.21 L333.60,447.66 L333.85,447.63 L334.10,446.80 L334.35,447.85 L334.60,447.54 L334.85,447.51 L335.10,447.42 L335.35,447.31 L335.60,447.55 L335.85,447.30 L336.10,447.06 L336.35,446.70 L336.60,444.57 L336.85,441.50 L337.10,439.07 L337.35,437.43 L337.60,437.22 L337.85,438.67 L338.10,440.95 L338.35,443.91 L338.60,446.63 L338.85,446.99 L339.10,447.20 L339.35,446.35 L339.60,446.95 L339.85,447.74 L340.10,447.50 L340.35,446.20 L340.60,447.20 L340.85,447.70 L341.10,447.37 L341.35,447.25 L341.60,446.78 L341.85,446.39 L342.10,446.85 L342.35,447.25 L342.60,447.59 L342.85,446.89 L343.10,445.57 L343.35,444.26 L343.60,442.94 L343.85,441.63 L344.10,440.31 L344.35,435.88 L344.60,422.21 L344.85,410.66 L345.10,401.53 L345.35,395.37 L345.60,394.60 L345.85,400.03 L346.10,408.63 L346.35,419.72 L346.60,432.99 L346.85,440.05 L347.10,441.37 L347.35,442.68 L347.60,443.99 L347.85,445.31 L348.10,443.89 L348.35,442.33 L348.60,441.28 L348.85,441.14 L349.10,442.07 L349.35,443.54 L349.60,445.44 L349.85,447.19 L350.10,447.42 L350.35,447.65 L350.60,447.83 L350.85,447.82 L351.10,447.84 L351.35,447.67 L351.60,447.65 L351.85,447.61 L352.10,447.88 L352.35,447.60 L352.60,447.72 L352.85,447.76 L353.10,447.71 L353.35,447.74 L353.60,447.84 L353.85,447.75 L354.10,447.65 L354.35,447.62 L354.60,447.54 L354.85,447.84 L355.10,447.55 L355.35,447.58 L355.60,447.62 L355.85,447.51 L356.10,447.86 L356.35,447.59 L356.60,447.54 L356.85,447.87 L357.10,447.67 L357.35,447.52 L357.60,447.80 L357.85,447.56 L358.10,447.54 L358.35,447.74 L358.60,447.86 L358.85,447.83 L359.10,447.57 L359.35,447.74 L359.60,447.79 L359.85,447.73 L360.10,447.53 L360.35,447.81 L360.60,447.91 L360.85,447.52 L361.10,447.79 L361.35,447.76 L361.60,447.51 L361.85,447.80 L362.10,447.88 L362.35,447.55 L362.60,447.82 L362.85,447.82 L363.10,447.53 L363.35,447.00 L363.60,445.99 L363.85,445.18 L364.10,444.64 L364.35,444.57 L364.60,445.05 L364.85,445.81 L365.10,446.78 L365.35,447.68 L365.60,447.79 L365.85,447.57 L366.10,447.53 L366.35,447.60 L366.60,447.58 L366.85,447.89 L367.10,447.81 L367.35,447.83 L367.60,447.85 L367.85,447.51 L368.10,447.54 L368.35,447.54 L368.60,447.69 L368.85,447.87 L369.10,447.74 L369.35,447.90 L369.60,447.54 L369.85,447.81 L370.10,447.80 L370.35,447.52 L370.60,447.84 L370.85,447.53 L371.10,447.79 L371.35,447.64 L371.60,447.47 L371.85,447.24 L372.10,445.86 L372.35,443.89 L372.60,442.33 L372.85,441.28 L373.10,441.14 L373.35,442.07 L373.60,443.54 L373.85,445.44 L374.10,447.19 L374.35,447.42 L374.60,447.04 L374.85,445.87 L375.10,444.71 L375.35,443.55 L375.60,442.38 L375.85,441.22 L376.10,437.29 L376.35,425.19 L376.60,414.97 L376.85,406.88 L377.10,401.43 L377.35,400.75 L377.60,405.56 L377.85,413.17 L378.10,422.99 L378.35,434.73 L378.60,440.99 L378.85,442.15 L379.10,443.31 L379.35,444.48 L379.60,445.64 L379.85,446.80 L380.10,447.77 L380.35,447.92 L380.60,447.69 L380.85,447.72 L381.10,447.71 L381.35,447.73 L381.60,447.72 L381.85,447.62 L382.10,447.84 L382.35,447.51 L382.60,447.87 L382.85,447.56 L383.10,447.85 L383.35,447.59 L383.60,447.81 L383.85,447.89 L384.10,447.69 L384.35,447.57 L384.60,447.56 L384.85,447.55 L385.10,447.51 L385.35,447.90 L385.60,447.76 L385.85,447.88 L386.10,447.60 L386.35,447.73 L386.60,447.61 L386.85,447.59 L387.10,447.50 L387.35,447.64 L387.60,447.55 L387.85,447.69 L388.10,447.89 L388.35,447.55 L388.60,447.88 L388.85,447.88 L389.10,447.57 L389.35,447.80 L389.60,447.64 L389.85,447.91 L390.10,447.83 L390.35,446.64 L390.60,445.09 L390.85,443.53 L391.10,441.98 L391.35,440.42 L391.60,438.87 L391.85,433.62 L392.10,417.44 L392.35,403.76 L392.60,392.95 L392.85,385.67 L393.10,384.75 L393.35,391.18 L393.60,401.36 L393.85,414.49 L394.10,430.19 L394.35,438.55 L394.60,440.11 L394.85,441.67 L395.10,443.22 L395.35,444.78 L395.60,446.33 L395.85,447.61 L396.10,447.58 L396.35,447.56 L396.60,447.80 L396.85,447.82 L397.10,447.85 L397.35,447.54 L397.60,447.74 L397.85,447.76 L398.10,447.70 L398.35,447.63 L398.60,447.79 L398.85,447.78 L399.10,447.60 L399.35,447.59 L399.60,447.80 L399.85,447.89 L400.10,447.53 L400.35,447.61 L400.60,447.67 L400.85,447.75 L401.10,447.52 L401.35,447.74 L401.60,447.83 L401.85,447.75 L402.10,447.27 L402.35,446.88 L402.60,446.60 L402.85,446.51 L403.10,446.70 L403.35,447.02 L403.60,447.45 L403.85,447.67 L404.10,447.66 L404.35,447.71 L404.60,447.70 L404.85,447.71 L405.10,447.57 L405.35,447.84 L405.60,447.59 L405.85,447.79 L406.10,447.56 L406.35,447.89 L406.60,447.72 L406.85,447.73 L407.10,447.62 L407.35,447.83 L407.60,447.81 L407.85,447.86 L408.10,447.68 L408.35,447.68 L408.60,447.92 L408.85,447.85 L409.10,447.84 L409.35,447.52 L409.60,447.73 L409.85,447.68 L410.10,447.80 L410.35,447.64 L410.60,447.58 L410.85,447.64 L411.10,447.92 L411.35,447.74 L411.60,447.71 L411.85,447.90 L412.10,447.59 L412.35,447.79 L412.60,447.80 L412.85,447.66 L413.10,447.67 L413.35,447.71 L413.60,447.56 L413.85,447.70 L414.10,447.78 L414.35,447.89 L414.60,447.69 L414.85,447.77 L415.10,447.69 L415.35,447.51 L415.60,446.82 L415.85,446.14 L416.10,445.45 L416.35,444.76 L416.60,444.07 L416.85,441.75 L417.10,434.60 L417.35,428.55 L417.60,423.77 L417.85,420.55 L418.10,420.14 L418.35,422.99 L418.60,427.49 L418.85,433.30 L419.10,440.24 L419.35,443.93 L419.60,444.62 L419.85,445.31 L420.10,446.00 L420.35,446.49 L420.60,446.13 L420.85,446.01 L421.10,446.26 L421.35,446.68 L421.60,447.23 L421.85,447.53 L422.10,447.63 L422.35,447.66 L422.60,447.51 L422.85,447.81 L423.10,447.79 L423.35,447.87 L423.60,447.84 L423.85,447.58 L424.10,447.88 L424.35,447.61 L424.60,447.75 L424.85,447.55 L425.10,447.37 L425.35,447.10 L425.60,445.54 L425.85,443.29 L426.10,441.51 L426.35,440.32 L426.60,440.16 L426.85,441.22 L427.10,442.90 L427.35,445.06 L427.60,447.05 L427.85,447.31 L428.10,447.57 L428.35,447.71 L428.60,447.61 L428.85,447.58 L429.10,447.76 L429.35,447.77 L429.60,447.66 L429.85,447.82 L430.10,447.55 L430.35,447.92 L430.60,447.65 L430.85,447.72 L431.10,447.84 L431.35,447.68 L431.60,447.72 L431.85,447.52 L432.10,447.55 L432.35,447.67 L432.60,447.55 L432.85,447.55 L433.10,447.85 L433.35,447.57 L433.60,447.57 L433.85,447.50 L434.10,447.60 L434.35,447.76 L434.60,447.83 L434.85,447.65 L435.10,447.83 L435.35,447.60 L435.60,447.68 L435.85,447.57 L436.10,447.77 L436.35,447.79 L436.60,447.54 L436.85,447.64 L437.10,447.76 L437.35,447.68 L437.60,447.61 L437.85,447.37 L438.10,447.12 L438.35,445.25 L438.60,443.22 L438.85,441.65 L439.10,440.65 L439.35,440.80 L439.60,441.92 L439.85,443.59 L440.10,445.70 L440.35,447.17 L440.60,447.42 L440.85,447.62 L441.10,447.70 L441.35,447.76 L441.60,447.67 L441.85,447.73 L442.10,447.65 L442.35,447.60 L442.60,447.37 L442.85,446.69 L443.10,446.00 L443.35,445.31 L443.60,444.62 L443.85,443.93 L444.10,440.24 L444.35,433.30 L444.60,427.49 L444.85,422.99 L445.10,420.14 L445.35,420.55 L445.60,423.77 L445.85,428.55 L446.10,434.60 L446.35,441.75 L446.60,444.07 L446.85,444.76 L447.10,445.45 L447.35,446.14 L447.60,446.82 L447.85,447.51 L448.10,447.85 L448.35,447.56 L448.60,447.60 L448.85,447.60 L449.10,447.89 L449.35,447.58 L449.60,447.91 L449.85,447.68 L450.10,447.72 L450.35,447.90 L450.60,447.74 L450.85,447.55 L451.10,447.66 L451.35,447.79 L451.60,447.58 L451.85,447.77 L452.10,447.54 L452.35,447.75 L452.60,447.89 L452.85,447.51 L453.10,447.89 L453.35,447.81 L453.60,447.60 L453.85,447.87 L454.10,447.69 L454.35,447.56 L454.60,447.67 L454.85,447.77 L455.10,447.60 L455.35,447.57 L455.60,447.68 L455.85,447.66 L456.10,447.78 L456.35,447.75 L456.60,447.50 L456.85,447.51 L457.10,447.92 L457.35,447.43 L457.60,446.67 L457.85,445.90 L458.10,445.14 L458.35,444.37 L458.60,443.61 L458.85,441.03 L459.10,433.07 L459.35,426.34 L459.60,421.03 L459.85,417.44 L460.10,416.99 L460.35,420.16 L460.60,425.16 L460.85,431.62 L461.10,439.34 L461.35,443.46 L461.60,444.22 L461.85,444.99 L462.10,445.75 L462.35,446.52 L462.60,447.28 L462.85,447.88 L463.10,447.77 L463.35,447.55 L463.60,447.71 L463.85,447.86 L464.10,447.82 L464.35,447.65 L464.60,447.80 L464.85,447.55 L465.10,447.89 L465.35,447.56 L465.60,447.66 L465.85,447.57 L466.10,447.77 L466.35,447.89 L466.60,447.45 L466.85,447.02 L467.10,446.70 L467.35,446.51 L467.60,446.60 L467.85,446.88 L468.10,447.27 L468.35,447.57 L468.60,447.69 L468.85,447.55 L469.10,447.63 L469.35,447.69 L469.60,447.74 L469.85,447.91 L470.10,447.88 L470.35,447.82 L470.60,447.73 L470.85,447.87 L471.10,447.51 L471.35,447.68 L471.60,447.61 L471.85,447.55 L472.10,447.82 L472.35,447.55 L472.60,447.52 L472.85,447.81 L473.10,447.87 L473.35,447.58 L473.60,447.55 L473.85,447.58 L474.10,447.75 L474.35,447.67 L474.60,447.87 L474.85,447.82 L475.10,447.74 L475.35,447.61 L475.60,447.88 L475.85,447.53 L476.10,447.91 L476.35,447.51 L476.60,447.82 L476.85,447.58 L477.10,447.58 L477.35,447.52 L477.60,447.72 L477.85,447.63 L478.10,447.80 L478.35,447.57 L478.60,447.87 L478.85,447.55 L479.10,447.67 L479.35,447.89 L479.60,447.52 L479.85,447.79 L480.10,447.89 L480.35,447.81 L480.60,447.91 L480.85,447.80 L481.10,447.62 L481.35,447.50 L481.60,447.65 L481.85,447.56 L482.10,447.57 L482.35,447.62 L482.60,447.76 L482.85,447.81 L483.10,447.85 L483.35,447.69 L483.60,447.83 L483.85,447.61 L484.10,447.79 L484.35,447.68 L484.60,447.69 L484.85,447.66 L485.10,447.85 L485.35,447.81 L485.60,447.63 L485.85,447.83 L486.10,447.64 L486.35,447.51 L486.60,447.76 L486.85,447.52 L487.10,447.66 L487.35,447.52 L487.60,447.70 L487.85,447.60 L488.10,447.63 L488.35,447.84 L488.60,447.70 L488.85,447.68 L489.10,447.73 L489.35,447.64 L489.60,447.54 L489.85,447.59 L490.10,447.58 L490.35,447.86 L490.60,447.62 L490.85,447.66 L491.10,447.53 L491.35,447.92 L491.60,447.85 L491.85,447.51 L492.10,447.76 L492.35,447.62 L492.60,447.67 L492.85,447.75 L493.10,447.74 L493.35,447.28 L493.60,446.65 L493.85,446.16 L494.10,445.85 L494.35,445.89 L494.60,446.24 L494.85,446.76 L495.10,447.42 L495.35,447.55 L495.60,447.89 L495.85,447.51 L496.10,447.66 L496.35,447.81 L496.60,447.72 L496.85,447.88 L497.10,447.82 L497.35,447.57 L497.60,447.62 L497.85,447.56 L498.10,447.85 L498.35,447.87 L498.60,447.76 L498.85,447.71 L499.10,447.62 L499.35,447.79 L499.60,447.61 L499.85,447.67 L500.10,441.90 L500.35,443.46 L500.60,447.84 L500.85,444.04 L501.10,445.20 L501.35,441.93 L501.60,447.86 L501.85,444.91 L502.10,446.78 L502.35,446.79 L502.60,442.79 L502.85,442.97 L503.10,441.86 L503.35,443.19 L503.60,443.08 L503.85,441.64 L504.10,440.08 L504.35,438.52 L504.60,430.12 L504.85,414.36 L505.10,401.18 L505.35,390.96 L505.60,384.51 L505.85,385.42 L506.10,392.74 L506.35,403.59 L506.60,417.32 L506.85,433.56 L507.10,430.73 L507.35,429.72 L507.60,431.77 L507.85,435.31 L508.10,440.01 L508.35,445.48 L508.60,441.51 L508.85,440.18 L509.10,436.27 L509.35,433.41 L509.60,432.00 L509.85,433.41 L510.10,436.27 L510.35,440.18 L510.60,444.04 L510.85,445.02 L511.10,446.76 L511.35,447.27 L511.60,447.54 L511.79999999999995,448.2 Z" fill="#7186bb" stroke="none"/>
<path d="M51.6,515.8 L51.60,515.06 L51.85,515.25 L52.10,514.85 L52.35,513.92 L52.60,514.08 L52.85,512.86 L53.10,514.77 L53.35,513.42 L53.60,514.95 L53.85,514.60 L54.10,513.43 L54.35,514.84 L54.60,513.10 L54.85,514.89 L55.10,514.24 L55.35,512.93 L55.60,511.89 L55.85,511.18 L56.10,511.10 L56.35,511.72 L56.60,512.69 L56.85,513.96 L57.10,514.27 L57.35,514.12 L57.60,513.52 L57.85,513.11 L58.10,513.06 L58.35,513.42 L58.60,513.99 L58.85,514.23 L59.10,514.19 L59.35,514.87 L59.60,513.11 L59.85,514.55 L60.10,514.89 L60.35,515.06 L60.60,515.25 L60.85,514.80 L61.10,515.33 L61.35,515.32 L61.60,515.39 L61.85,515.14 L62.10,514.88 L62.35,515.23 L62.60,515.23 L62.85,514.92 L63.10,515.35 L63.35,515.39 L63.60,515.00 L63.85,515.35 L64.10,515.08 L64.35,515.31 L64.60,515.04 L64.85,514.89 L65.10,515.13 L65.35,515.24 L65.60,515.03 L65.85,514.98 L66.10,515.37 L66.35,515.26 L66.60,515.17 L66.85,515.10 L67.10,515.24 L67.35,515.01 L67.60,515.25 L67.85,514.86 L68.10,515.19 L68.35,515.27 L68.60,515.35 L68.85,515.32 L69.10,515.27 L69.35,514.87 L69.60,515.15 L69.85,515.13 L70.10,514.82 L70.35,514.82 L70.60,514.94 L70.85,515.26 L71.10,515.20 L71.35,515.10 L71.60,515.25 L71.85,515.19 L72.10,515.27 L72.35,515.26 L72.60,514.95 L72.85,515.04 L73.10,515.13 L73.35,515.12 L73.60,515.03 L73.85,514.99 L74.10,515.39 L74.35,514.89 L74.60,515.12 L74.85,515.19 L75.10,514.82 L75.35,514.95 L75.60,515.19 L75.85,515.39 L76.10,515.14 L76.35,515.14 L76.60,515.18 L76.85,515.34 L77.10,515.05 L77.35,515.25 L77.60,514.94 L77.85,515.08 L78.10,515.22 L78.35,514.90 L78.60,515.13 L78.85,515.35 L79.10,515.23 L79.35,515.37 L79.60,515.14 L79.85,514.85 L80.10,514.84 L80.35,515.01 L80.60,515.31 L80.85,515.26 L81.10,515.28 L81.35,515.18 L81.60,515.02 L81.85,515.39 L82.10,515.11 L82.35,515.14 L82.60,515.00 L82.85,514.90 L83.10,515.16 L83.35,515.04 L83.60,515.24 L83.85,515.13 L84.10,515.02 L84.35,515.37 L84.60,515.09 L84.85,515.10 L85.10,515.29 L85.35,515.25 L85.60,514.91 L85.85,515.19 L86.10,515.28 L86.35,515.23 L86.60,515.09 L86.85,515.16 L87.10,515.19 L87.35,515.21 L87.60,515.27 L87.85,515.10 L88.10,515.04 L88.35,515.35 L88.60,515.05 L88.85,515.22 L89.10,514.81 L89.35,514.84 L89.60,515.32 L89.85,514.98 L90.10,515.19 L90.35,515.33 L90.60,514.87 L90.85,514.86 L91.10,514.93 L91.35,515.02 L91.60,514.81 L91.85,515.07 L92.10,514.77 L92.35,514.26 L92.60,513.74 L92.85,513.23 L93.10,512.72 L93.35,510.98 L93.60,505.63 L93.85,501.11 L94.10,497.54 L94.35,495.13 L94.60,494.83 L94.85,496.96 L95.10,500.32 L95.35,504.66 L95.60,509.85 L95.85,512.61 L96.10,513.13 L96.35,513.64 L96.60,514.15 L96.85,514.67 L97.10,515.18 L97.35,515.04 L97.60,515.12 L97.85,514.98 L98.10,515.34 L98.35,514.87 L98.60,515.14 L98.85,515.14 L99.10,514.96 L99.35,515.04 L99.60,515.13 L99.85,515.22 L100.10,515.12 L100.35,515.38 L100.60,515.25 L100.85,514.90 L101.10,515.33 L101.35,515.29 L101.60,514.57 L101.85,513.53 L102.10,512.70 L102.35,512.15 L102.60,512.08 L102.85,512.57 L103.10,513.34 L103.35,514.34 L103.60,514.89 L103.85,515.21 L104.10,515.02 L104.35,515.22 L104.60,514.95 L104.85,515.17 L105.10,515.04 L105.35,515.21 L105.60,514.90 L105.85,514.93 L106.10,515.28 L106.35,514.95 L106.60,514.83 L106.85,515.26 L107.10,515.29 L107.35,514.84 L107.60,514.82 L107.85,515.32 L108.10,514.93 L108.35,514.84 L108.60,515.24 L108.85,514.93 L109.10,515.22 L109.35,514.93 L109.60,515.09 L109.85,515.12 L110.10,515.33 L110.35,515.01 L110.60,514.98 L110.85,515.23 L111.10,515.37 L111.35,515.35 L111.60,515.24 L111.85,514.80 L112.10,514.95 L112.35,514.86 L112.60,514.95 L112.85,515.32 L113.10,515.17 L113.35,514.83 L113.60,514.89 L113.85,514.81 L114.10,514.91 L114.35,514.97 L114.60,514.94 L114.85,514.85 L115.10,515.14 L115.35,515.04 L115.60,514.70 L115.85,514.36 L116.10,512.30 L116.35,509.33 L116.60,506.99 L116.85,505.42 L117.10,505.22 L117.35,506.61 L117.60,508.81 L117.85,511.66 L118.10,514.29 L118.35,514.63 L118.60,514.98 L118.85,515.32 L119.10,514.84 L119.35,515.02 L119.60,515.01 L119.85,514.91 L120.10,515.40 L120.35,514.86 L120.60,515.20 L120.85,515.02 L121.10,515.16 L121.35,514.95 L121.60,515.22 L121.85,515.23 L122.10,515.25 L122.35,514.97 L122.60,515.13 L122.85,515.31 L123.10,515.19 L123.35,515.06 L123.60,515.18 L123.85,515.04 L124.10,514.89 L124.35,515.02 L124.60,514.92 L124.85,515.22 L125.10,514.88 L125.35,514.84 L125.60,515.08 L125.85,515.39 L126.10,515.35 L126.35,514.95 L126.60,514.88 L126.85,514.97 L127.10,515.10 L127.35,515.08 L127.60,515.33 L127.85,515.04 L128.10,514.80 L128.35,515.28 L128.60,515.03 L128.85,514.89 L129.10,515.01 L129.35,515.19 L129.60,515.26 L129.85,514.96 L130.10,514.84 L130.35,514.87 L130.60,515.16 L130.85,514.95 L131.10,514.91 L131.35,515.17 L131.60,514.95 L131.85,515.17 L132.10,515.28 L132.35,515.40 L132.60,514.97 L132.85,514.95 L133.10,515.37 L133.35,515.08 L133.60,514.75 L133.85,514.42 L134.10,512.46 L134.35,509.63 L134.60,507.40 L134.85,505.90 L135.10,505.71 L135.35,507.04 L135.60,509.14 L135.85,511.85 L136.10,514.36 L136.35,514.69 L136.60,515.01 L136.85,514.83 L137.10,514.95 L137.35,515.07 L137.60,515.10 L137.85,515.03 L138.10,515.22 L138.35,515.36 L138.60,515.07 L138.85,514.86 L139.10,515.34 L139.35,514.81 L139.60,515.18 L139.85,514.80 L140.10,514.94 L140.35,515.24 L140.60,515.27 L140.85,514.87 L141.10,514.81 L141.35,514.92 L141.60,515.05 L141.85,515.07 L142.10,514.93 L142.35,514.91 L142.60,514.90 L142.85,515.23 L143.10,514.90 L143.35,514.83 L143.60,515.06 L143.85,515.39 L144.10,515.29 L144.35,515.01 L144.60,515.14 L144.85,514.85 L145.10,515.01 L145.35,514.98 L145.60,515.31 L145.85,515.09 L146.10,514.97 L146.35,514.85 L146.60,514.86 L146.85,515.24 L147.10,515.10 L147.35,514.81 L147.60,515.35 L147.85,515.36 L148.10,515.29 L148.35,514.96 L148.60,515.20 L148.85,514.98 L149.10,514.90 L149.35,514.91 L149.60,515.38 L149.85,514.99 L150.10,514.92 L150.35,514.98 L150.60,514.88 L150.85,514.91 L151.10,515.03 L151.35,514.88 L151.60,515.07 L151.85,515.34 L152.10,515.23 L152.35,514.84 L152.60,515.20 L152.85,515.12 L153.10,514.88 L153.35,514.99 L153.60,514.93 L153.85,515.12 L154.10,515.10 L154.35,515.35 L154.60,515.28 L154.85,515.31 L155.10,515.08 L155.35,515.08 L155.60,515.36 L155.85,515.02 L156.10,515.34 L156.35,515.17 L156.60,515.38 L156.85,515.11 L157.10,515.31 L157.35,514.84 L157.60,515.18 L157.85,514.90 L158.10,515.13 L158.35,515.20 L158.60,514.90 L158.85,515.24 L159.10,515.09 L159.35,515.02 L159.60,514.80 L159.85,514.98 L160.10,515.37 L160.35,515.13 L160.60,514.83 L160.85,514.89 L161.10,515.18 L161.35,515.32 L161.60,515.24 L161.85,514.95 L162.10,515.29 L162.35,514.86 L162.60,515.24 L162.85,514.99 L163.10,514.98 L163.35,515.25 L163.60,515.09 L163.85,515.02 L164.10,515.24 L164.35,515.08 L164.60,515.02 L164.85,514.83 L165.10,515.23 L165.35,515.30 L165.60,515.10 L165.85,515.04 L166.10,515.11 L166.35,514.85 L166.60,515.28 L166.85,515.09 L167.10,515.12 L167.35,515.28 L167.60,515.13 L167.85,515.13 L168.10,515.17 L168.35,514.94 L168.60,514.81 L168.85,514.82 L169.10,515.27 L169.35,515.18 L169.60,514.83 L169.85,515.35 L170.10,515.35 L170.35,512.77 L170.60,515.14 L170.85,509.84 L171.10,510.33 L171.35,513.93 L171.60,513.98 L171.85,513.59 L172.10,515.37 L172.35,510.71 L172.60,513.69 L172.85,512.54 L173.10,513.98 L173.35,512.50 L173.60,513.70 L173.85,513.38 L174.10,514.75 L174.35,515.01 L174.60,512.05 L174.85,513.08 L175.10,513.47 L175.35,510.72 L175.60,510.08 L175.85,508.01 L176.10,506.62 L176.35,506.44 L176.60,507.67 L176.85,509.62 L177.10,512.14 L177.35,512.39 L177.60,514.70 L177.85,514.33 L178.10,513.09 L178.35,510.65 L178.60,512.86 L178.85,511.21 L179.10,506.11 L179.35,501.80 L179.60,498.40 L179.85,496.10 L180.10,495.82 L180.35,497.84 L180.60,501.05 L180.85,505.18 L181.10,510.13 L181.35,509.96 L181.60,503.49 L181.85,498.01 L182.10,493.68 L182.35,490.77 L182.60,490.40 L182.85,492.98 L183.10,497.05 L183.35,502.31 L183.60,508.59 L183.85,511.02 L184.10,512.56 L184.35,510.42 L184.60,513.80 L184.85,513.17 L185.10,514.24 L185.35,511.99 L185.60,514.76 L185.85,511.53 L186.10,511.95 L186.35,511.25 L186.60,511.33 L186.85,513.75 L187.10,513.54 L187.35,511.30 L187.60,512.55 L187.85,512.21 L188.10,511.19 L188.35,514.46 L188.60,513.79 L188.85,509.89 L189.10,512.44 L189.35,510.34 L189.60,509.51 L189.85,502.53 L190.10,496.63 L190.35,491.97 L190.60,488.83 L190.85,488.43 L191.10,491.21 L191.35,495.60 L191.60,501.26 L191.85,508.03 L192.10,511.64 L192.35,512.31 L192.60,512.98 L192.85,513.65 L193.10,514.32 L193.35,514.96 L193.60,515.34 L193.85,515.29 L194.10,515.38 L194.35,515.15 L194.60,514.89 L194.85,515.04 L195.10,515.02 L195.35,514.84 L195.60,514.91 L195.85,515.22 L196.10,515.27 L196.35,515.08 L196.60,515.26 L196.85,515.04 L197.10,515.31 L197.35,515.08 L197.60,514.86 L197.85,513.51 L198.10,511.58 L198.35,510.05 L198.60,509.02 L198.85,508.89 L199.10,509.80 L199.35,511.24 L199.60,513.10 L199.85,514.81 L200.10,515.04 L200.35,515.26 L200.60,514.83 L200.85,515.27 L201.10,515.35 L201.35,514.84 L201.60,515.08 L201.85,515.05 L202.10,514.85 L202.35,514.96 L202.60,515.24 L202.85,515.23 L203.10,515.01 L203.35,514.99 L203.60,515.26 L203.85,515.25 L204.10,515.09 L204.35,515.36 L204.60,514.92 L204.85,515.01 L205.10,515.31 L205.35,515.05 L205.60,515.04 L205.85,515.35 L206.10,515.14 L206.35,514.92 L206.60,515.13 L206.85,514.96 L207.10,515.26 L207.35,514.80 L207.60,515.00 L207.85,515.07 L208.10,515.39 L208.35,515.19 L208.60,515.40 L208.85,515.14 L209.10,515.29 L209.35,515.25 L209.60,515.22 L209.85,515.31 L210.10,515.23 L210.35,515.10 L210.60,515.32 L210.85,515.06 L211.10,514.83 L211.35,514.97 L211.60,514.83 L211.85,515.33 L212.10,515.00 L212.35,515.26 L212.60,514.84 L212.85,515.10 L213.10,514.97 L213.35,514.93 L213.60,515.32 L213.85,515.34 L214.10,514.91 L214.35,514.91 L214.60,515.14 L214.85,515.39 L215.10,515.39 L215.35,514.92 L215.60,514.98 L215.85,515.18 L216.10,514.99 L216.35,514.92 L216.60,515.40 L216.85,514.95 L217.10,514.81 L217.35,514.88 L217.60,514.87 L217.85,515.14 L218.10,515.04 L218.35,515.33 L218.60,514.92 L218.85,515.00 L219.10,515.16 L219.35,515.37 L219.60,515.29 L219.85,515.16 L220.10,514.85 L220.35,515.12 L220.60,514.88 L220.85,515.29 L221.10,515.25 L221.35,515.26 L221.60,515.23 L221.85,514.92 L222.10,515.18 L222.35,515.21 L222.60,514.99 L222.85,515.13 L223.10,514.87 L223.35,514.98 L223.60,514.90 L223.85,515.14 L224.10,515.16 L224.35,515.13 L224.60,514.81 L224.85,514.57 L225.10,514.19 L225.35,511.89 L225.60,508.59 L225.85,505.97 L226.10,504.21 L226.35,503.99 L226.60,505.55 L226.85,508.01 L227.10,511.18 L227.35,514.11 L227.60,514.50 L227.85,514.88 L228.10,515.10 L228.35,515.40 L228.60,515.36 L228.85,515.18 L229.10,514.97 L229.35,515.17 L229.60,515.39 L229.85,515.25 L230.10,515.28 L230.35,514.94 L230.60,515.26 L230.85,514.81 L231.10,515.23 L231.35,515.29 L231.60,515.39 L231.85,515.11 L232.10,515.09 L232.35,514.93 L232.60,515.00 L232.85,515.07 L233.10,515.37 L233.35,514.84 L233.60,515.16 L233.85,514.96 L234.10,513.76 L234.35,512.03 L234.60,510.66 L234.85,509.74 L235.10,509.63 L235.35,510.44 L235.60,511.72 L235.85,513.38 L236.10,514.92 L236.35,515.12 L236.60,514.95 L236.85,514.97 L237.10,515.32 L237.35,514.81 L237.60,514.97 L237.85,514.97 L238.10,515.21 L238.35,514.82 L238.60,515.13 L238.85,515.02 L239.10,514.81 L239.35,514.90 L239.60,515.29 L239.85,515.32 L240.10,515.27 L240.35,515.33 L240.60,514.87 L240.85,515.07 L241.10,515.11 L241.35,515.18 L241.60,515.10 L241.85,515.14 L242.10,514.96 L242.35,515.15 L242.60,514.88 L242.85,514.89 L243.10,514.88 L243.35,514.95 L243.60,515.30 L243.85,515.15 L244.10,514.90 L244.35,515.19 L244.60,515.06 L244.85,515.27 L245.10,514.91 L245.35,515.20 L245.60,515.18 L245.85,514.91 L246.10,515.35 L246.35,515.40 L246.60,515.15 L246.85,515.13 L247.10,515.33 L247.35,515.16 L247.60,514.94 L247.85,514.87 L248.10,514.85 L248.35,514.92 L248.60,515.36 L248.85,515.18 L249.10,515.13 L249.35,515.38 L249.60,514.93 L249.85,515.23 L250.10,514.93 L250.35,514.99 L250.60,515.24 L250.85,515.19 L251.10,515.13 L251.35,515.28 L251.60,515.39 L251.85,515.09 L252.10,514.37 L252.35,513.66 L252.60,512.95 L252.85,512.23 L253.10,511.52 L253.35,509.11 L253.60,501.70 L253.85,495.43 L254.10,490.47 L254.35,487.13 L254.60,486.71 L254.85,489.66 L255.10,494.32 L255.35,500.35 L255.60,507.54 L255.85,511.38 L256.10,512.09 L256.35,512.80 L256.60,513.52 L256.85,514.23 L257.10,514.94 L257.35,515.01 L257.60,515.28 L257.85,514.95 L258.10,515.17 L258.35,514.98 L258.60,515.08 L258.85,515.35 L259.10,515.06 L259.35,515.01 L259.60,515.37 L259.85,515.38 L260.10,515.24 L260.35,514.97 L260.60,514.81 L260.85,515.13 L261.10,514.88 L261.35,514.97 L261.60,515.24 L261.85,515.13 L262.10,514.89 L262.35,515.11 L262.60,515.10 L262.85,514.97 L263.10,515.31 L263.35,515.12 L263.60,515.09 L263.85,515.06 L264.10,514.98 L264.35,515.24 L264.60,515.12 L264.85,515.12 L265.10,515.34 L265.35,514.93 L265.60,514.82 L265.85,515.06 L266.10,515.15 L266.35,515.18 L266.60,515.13 L266.85,515.18 L267.10,515.24 L267.35,514.83 L267.60,515.18 L267.85,515.27 L268.10,515.00 L268.35,515.40 L268.60,515.19 L268.85,515.06 L269.10,514.91 L269.35,515.22 L269.60,515.37 L269.85,514.82 L270.10,515.39 L270.35,515.15 L270.60,515.09 L270.85,514.81 L271.10,515.19 L271.35,515.25 L271.60,515.23 L271.85,515.17 L272.10,512.65 L272.35,513.23 L272.60,513.47 L272.85,514.85 L273.10,514.80 L273.35,512.50 L273.60,512.54 L273.85,514.27 L274.10,513.69 L274.35,512.93 L274.60,511.89 L274.85,511.18 L275.10,511.10 L275.35,511.72 L275.60,512.69 L275.85,513.83 L276.10,513.95 L276.35,514.54 L276.60,514.08 L276.85,512.63 L277.10,511.48 L277.35,510.70 L277.60,510.61 L277.85,511.29 L278.10,512.37 L278.35,513.77 L278.60,514.83 L278.85,513.82 L279.10,514.31 L279.35,514.94 L279.60,512.54 L279.85,512.76 L280.10,512.40 L280.35,515.06 L280.60,514.81 L280.85,514.81 L281.10,514.14 L281.35,513.75 L281.60,514.15 L281.85,513.60 L282.10,513.05 L282.35,512.50 L282.60,510.64 L282.85,504.92 L283.10,500.08 L283.35,496.26 L283.60,493.68 L283.85,493.35 L284.10,495.63 L284.35,499.23 L284.60,503.88 L284.85,509.43 L285.10,512.39 L285.35,512.94 L285.60,513.49 L285.85,514.04 L286.10,514.59 L286.35,512.79 L286.60,515.23 L286.85,513.15 L287.10,515.19 L287.35,514.28 L287.60,513.18 L287.85,512.83 L288.10,512.92 L288.35,514.46 L288.60,514.07 L288.85,515.01 L289.10,515.02 L289.35,514.88 L289.60,512.85 L289.85,512.81 L290.10,513.81 L290.35,513.19 L290.60,509.46 L290.85,504.10 L291.10,499.86 L291.35,497.00 L291.60,496.64 L291.85,499.16 L292.10,503.15 L292.35,508.30 L292.60,513.06 L292.85,513.22 L293.10,513.57 L293.35,513.81 L293.60,512.65 L293.85,513.00 L294.10,514.78 L294.35,512.55 L294.60,514.79 L294.85,513.31 L295.10,515.00 L295.35,513.28 L295.60,515.31 L295.85,514.91 L296.10,515.14 L296.35,514.58 L296.60,513.91 L296.85,514.87 L297.10,514.39 L297.35,515.01 L297.60,513.81 L297.85,514.64 L298.10,512.61 L298.35,515.24 L298.60,514.99 L298.85,514.61 L299.10,513.81 L299.35,514.06 L299.60,513.09 L299.85,510.27 L300.10,505.59 L300.35,501.90 L300.60,499.41 L300.85,499.09 L301.10,501.29 L301.35,504.77 L301.60,509.26 L301.85,513.41 L302.10,511.36 L302.35,512.17 L302.60,514.42 L302.85,514.39 L303.10,511.49 L303.35,515.18 L303.60,512.22 L303.85,515.09 L304.10,512.70 L304.35,513.70 L304.60,514.56 L304.85,513.92 L305.10,513.94 L305.35,514.79 L305.60,511.58 L305.85,512.33 L306.10,514.76 L306.35,512.04 L306.60,514.65 L306.85,512.14 L307.10,512.13 L307.35,509.04 L307.60,506.59 L307.85,504.93 L308.10,504.73 L308.35,506.18 L308.60,508.49 L308.85,511.47 L309.10,514.22 L309.35,513.66 L309.60,514.05 L309.85,515.21 L310.10,512.67 L310.35,515.11 L310.60,514.09 L310.85,512.89 L311.10,512.42 L311.35,514.21 L311.60,514.32 L311.85,515.31 L312.10,514.57 L312.35,515.31 L312.60,514.54 L312.85,511.78 L313.10,514.79 L313.35,513.00 L313.60,511.71 L313.85,512.33 L314.10,511.07 L314.35,510.22 L314.60,510.12 L314.85,510.86 L315.10,512.05 L315.35,512.05 L315.60,511.87 L315.85,511.92 L316.10,514.01 L316.35,514.81 L316.60,513.46 L316.85,514.05 L317.10,511.39 L317.35,513.64 L317.60,513.30 L317.85,511.58 L318.10,511.58 L318.35,513.67 L318.60,511.46 L318.85,514.79 L319.10,514.73 L319.35,514.14 L319.60,513.75 L319.85,514.23 L320.10,515.01 L320.35,514.77 L320.60,511.62 L320.85,514.09 L321.10,511.89 L321.35,508.59 L321.60,505.97 L321.85,504.21 L322.10,503.99 L322.35,505.55 L322.60,508.01 L322.85,511.18 L323.10,510.83 L323.35,509.03 L323.60,507.82 L323.85,507.67 L324.10,508.74 L324.35,510.43 L324.60,512.62 L324.85,514.64 L325.10,513.95 L325.35,512.00 L325.60,512.97 L325.85,514.98 L326.10,514.95 L326.35,513.61 L326.60,513.24 L326.85,512.39 L327.10,511.54 L327.35,510.69 L327.60,507.81 L327.85,498.95 L328.10,491.46 L328.35,485.54 L328.60,481.55 L328.85,481.05 L329.10,484.57 L329.35,490.14 L329.60,497.34 L329.85,505.94 L330.10,510.52 L330.35,511.37 L330.60,512.22 L330.85,511.62 L331.10,513.93 L331.35,512.68 L331.60,512.27 L331.85,512.77 L332.10,512.87 L332.35,512.83 L332.60,515.15 L332.85,514.40 L333.10,511.84 L333.35,514.30 L333.60,511.74 L333.85,513.34 L334.10,515.34 L334.35,512.63 L334.60,514.35 L334.85,513.35 L335.10,515.02 L335.35,514.35 L335.60,514.81 L335.85,512.88 L336.10,512.18 L336.35,514.32 L336.60,512.70 L336.85,510.08 L337.10,508.01 L337.35,506.62 L337.60,506.44 L337.85,507.67 L338.10,509.62 L338.35,512.14 L338.60,514.46 L338.85,511.37 L339.10,512.21 L339.35,514.40 L339.60,513.26 L339.85,513.01 L340.10,513.88 L340.35,514.61 L340.60,511.71 L340.85,512.71 L341.10,515.26 L341.35,515.39 L341.60,511.38 L341.85,514.81 L342.10,515.35 L342.35,515.19 L342.60,515.10 L342.85,512.99 L343.10,512.72 L343.35,511.18 L343.60,509.64 L343.85,508.10 L344.10,506.56 L344.35,501.36 L344.60,485.35 L344.85,471.81 L345.10,461.11 L345.35,453.90 L345.60,452.99 L345.85,459.36 L346.10,469.43 L346.35,482.43 L346.60,497.97 L346.85,506.25 L347.10,507.79 L347.35,509.33 L347.60,510.87 L347.85,512.41 L348.10,511.58 L348.35,510.05 L348.60,509.02 L348.85,508.89 L349.10,509.80 L349.35,511.24 L349.60,512.67 L349.85,512.30 L350.10,512.90 L350.35,512.28 L350.60,512.09 L350.85,513.42 L351.10,512.62 L351.35,511.43 L351.60,513.56 L351.85,514.99 L352.10,514.86 L352.35,515.03 L352.60,515.38 L352.85,515.39 L353.10,514.89 L353.35,514.93 L353.60,515.03 L353.85,515.16 L354.10,515.25 L354.35,515.11 L354.60,514.86 L354.85,515.02 L355.10,515.37 L355.35,515.28 L355.60,515.35 L355.85,514.88 L356.10,514.89 L356.35,514.84 L356.60,515.14 L356.85,515.21 L357.10,515.36 L357.35,515.25 L357.60,515.19 L357.85,515.17 L358.10,515.20 L358.35,514.96 L358.60,514.88 L358.85,515.17 L359.10,514.91 L359.35,515.22 L359.60,515.24 L359.85,514.92 L360.10,515.35 L360.35,515.35 L360.60,514.80 L360.85,515.12 L361.10,515.15 L361.35,514.94 L361.60,514.87 L361.85,515.18 L362.10,514.92 L362.35,515.32 L362.60,514.87 L362.85,515.15 L363.10,515.17 L363.35,515.39 L363.60,515.36 L363.85,515.17 L364.10,515.33 L364.35,515.00 L364.60,514.80 L364.85,515.23 L365.10,514.95 L365.35,515.05 L365.60,515.03 L365.85,514.93 L366.10,515.11 L366.35,514.90 L366.60,515.30 L366.85,514.99 L367.10,515.08 L367.35,515.28 L367.60,515.26 L367.85,514.83 L368.10,515.02 L368.35,515.10 L368.60,515.10 L368.85,514.89 L369.10,515.02 L369.35,515.27 L369.60,514.84 L369.85,514.89 L370.10,514.93 L370.35,514.97 L370.60,515.00 L370.85,515.21 L371.10,514.81 L371.35,514.97 L371.60,514.83 L371.85,514.52 L372.10,512.70 L372.35,510.08 L372.60,508.01 L372.85,506.62 L373.10,506.44 L373.35,507.67 L373.60,509.62 L373.85,512.14 L374.10,514.46 L374.35,514.77 L374.60,514.82 L374.85,513.83 L375.10,512.85 L375.35,511.86 L375.60,510.88 L375.85,509.89 L376.10,506.57 L376.35,496.33 L376.60,487.67 L376.85,480.83 L377.10,476.21 L377.35,475.63 L377.60,479.71 L377.85,486.15 L378.10,494.46 L378.35,504.40 L378.60,509.69 L378.85,510.68 L379.10,511.66 L379.35,512.65 L379.60,513.63 L379.85,514.62 L380.10,514.98 L380.35,514.80 L380.60,515.22 L380.85,515.07 L381.10,515.07 L381.35,514.83 L381.60,514.81 L381.85,515.36 L382.10,515.17 L382.35,514.92 L382.60,515.15 L382.85,515.09 L383.10,515.06 L383.35,515.39 L383.60,515.38 L383.85,514.86 L384.10,515.16 L384.35,515.13 L384.60,515.06 L384.85,514.95 L385.10,514.86 L385.35,515.35 L385.60,515.02 L385.85,515.40 L386.10,515.07 L386.35,514.91 L386.60,515.11 L386.85,515.18 L387.10,514.89 L387.35,514.98 L387.60,514.85 L387.85,515.08 L388.10,515.21 L388.35,514.98 L388.60,515.11 L388.85,515.40 L389.10,515.32 L389.35,514.82 L389.60,515.01 L389.85,515.38 L390.10,514.95 L390.35,514.27 L390.60,512.74 L390.85,511.22 L391.10,509.69 L391.35,508.16 L391.60,506.63 L391.85,501.48 L392.10,485.59 L392.35,472.16 L392.60,461.54 L392.85,454.38 L393.10,453.48 L393.35,459.80 L393.60,469.79 L393.85,482.70 L394.10,498.11 L394.35,506.33 L394.60,507.85 L394.85,509.38 L395.10,510.91 L395.35,512.44 L395.60,513.97 L395.85,515.12 L396.10,514.86 L396.35,515.08 L396.60,514.91 L396.85,514.90 L397.10,514.92 L397.35,515.22 L397.60,514.85 L397.85,515.35 L398.10,515.10 L398.35,515.35 L398.60,515.17 L398.85,514.87 L399.10,514.91 L399.35,514.80 L399.60,515.06 L399.85,515.09 L400.10,515.30 L400.35,515.11 L400.60,514.86 L400.85,515.20 L401.10,514.89 L401.35,515.22 L401.60,514.92 L401.85,514.80 L402.10,513.72 L402.35,512.85 L402.60,512.23 L402.85,512.03 L403.10,512.44 L403.35,513.17 L403.60,514.13 L403.85,514.97 L404.10,515.28 L404.35,515.20 L404.60,515.23 L404.85,515.26 L405.10,515.37 L405.35,515.27 L405.60,515.07 L405.85,515.04 L406.10,515.20 L406.35,515.03 L406.60,515.20 L406.85,514.91 L407.10,515.39 L407.35,514.94 L407.60,514.86 L407.85,515.05 L408.10,515.02 L408.35,514.81 L408.60,515.31 L408.85,515.34 L409.10,515.10 L409.35,514.97 L409.60,515.08 L409.85,515.11 L410.10,515.14 L410.35,515.12 L410.60,514.87 L410.85,515.36 L411.10,515.01 L411.35,515.34 L411.60,514.89 L411.85,515.24 L412.10,514.92 L412.35,515.21 L412.60,515.02 L412.85,515.09 L413.10,514.83 L413.35,515.12 L413.60,515.09 L413.85,515.10 L414.10,515.25 L414.35,514.84 L414.60,515.19 L414.85,515.31 L415.10,515.28 L415.35,514.96 L415.60,514.12 L415.85,513.28 L416.10,512.44 L416.35,511.60 L416.60,510.76 L416.85,507.93 L417.10,499.19 L417.35,491.81 L417.60,485.97 L417.85,482.03 L418.10,481.54 L418.35,485.01 L418.60,490.51 L418.85,497.60 L419.10,506.08 L419.35,510.59 L419.60,511.43 L419.85,512.27 L420.10,512.84 L420.35,511.60 L420.60,510.73 L420.85,510.44 L421.10,511.03 L421.35,512.06 L421.60,513.42 L421.85,515.01 L422.10,514.89 L422.35,515.35 L422.60,514.95 L422.85,515.08 L423.10,514.99 L423.35,515.28 L423.60,514.96 L423.85,514.92 L424.10,514.03 L424.35,513.15 L424.60,512.27 L424.85,511.38 L425.10,510.50 L425.35,507.52 L425.60,498.33 L425.85,490.57 L426.10,484.43 L426.35,480.29 L426.60,479.77 L426.85,483.42 L427.10,489.20 L427.35,496.66 L427.60,505.57 L427.85,510.32 L428.10,511.21 L428.35,512.09 L428.60,512.97 L428.85,513.86 L429.10,514.74 L429.35,515.18 L429.60,515.23 L429.85,515.23 L430.10,515.04 L430.35,515.24 L430.60,515.08 L430.85,515.09 L431.10,515.38 L431.35,515.21 L431.60,514.91 L431.85,515.27 L432.10,514.95 L432.35,515.35 L432.60,515.11 L432.85,515.15 L433.10,515.01 L433.35,515.40 L433.60,515.33 L433.85,515.16 L434.10,514.85 L434.35,515.10 L434.60,514.88 L434.85,515.08 L435.10,514.81 L435.35,515.35 L435.60,514.88 L435.85,515.25 L436.10,515.27 L436.35,515.08 L436.60,515.15 L436.85,514.80 L437.10,514.84 L437.35,514.97 L437.60,515.09 L437.85,514.79 L438.10,514.50 L438.35,512.23 L438.60,509.78 L438.85,507.89 L439.10,506.69 L439.35,506.86 L439.60,508.22 L439.85,510.23 L440.10,512.78 L440.35,514.56 L440.60,514.85 L440.85,514.83 L441.10,514.84 L441.35,515.34 L441.60,515.37 L441.85,515.20 L442.10,515.08 L442.35,514.80 L442.60,515.14 L442.85,514.59 L443.10,514.04 L443.35,513.49 L443.60,512.94 L443.85,512.39 L444.10,509.43 L444.35,503.88 L444.60,499.23 L444.85,495.63 L445.10,493.35 L445.35,493.68 L445.60,496.26 L445.85,500.08 L446.10,504.92 L446.35,510.64 L446.60,512.50 L446.85,513.05 L447.10,513.60 L447.35,514.15 L447.60,514.70 L447.85,515.19 L448.10,514.87 L448.35,515.30 L448.60,514.84 L448.85,515.29 L449.10,514.87 L449.35,515.14 L449.60,515.04 L449.85,515.26 L450.10,514.91 L450.35,515.27 L450.60,514.93 L450.85,515.00 L451.10,514.86 L451.35,514.81 L451.60,514.92 L451.85,515.30 L452.10,514.91 L452.35,515.34 L452.60,514.91 L452.85,514.85 L453.10,515.32 L453.35,515.38 L453.60,514.91 L453.85,515.19 L454.10,514.99 L454.35,514.91 L454.60,514.84 L454.85,515.09 L455.10,514.89 L455.35,514.85 L455.60,514.94 L455.85,515.18 L456.10,514.85 L456.35,515.15 L456.60,514.86 L456.85,515.17 L457.10,515.11 L457.35,514.78 L457.60,513.76 L457.85,512.74 L458.10,511.72 L458.35,510.69 L458.60,509.67 L458.85,506.23 L459.10,495.61 L459.35,486.64 L459.60,479.54 L459.85,474.76 L460.10,474.16 L460.35,478.38 L460.60,485.06 L460.85,493.68 L461.10,503.98 L461.35,509.47 L461.60,510.49 L461.85,511.51 L462.10,512.53 L462.35,513.55 L462.60,514.57 L462.85,515.32 L463.10,515.00 L463.35,515.38 L463.60,515.23 L463.85,514.84 L464.10,515.25 L464.35,514.89 L464.60,515.38 L464.85,515.28 L465.10,515.37 L465.35,514.96 L465.60,515.06 L465.85,514.94 L466.10,514.91 L466.35,514.97 L466.60,515.34 L466.85,515.13 L467.10,515.38 L467.35,514.92 L467.60,515.17 L467.85,515.12 L468.10,514.86 L468.35,514.81 L468.60,515.04 L468.85,515.17 L469.10,514.88 L469.35,514.89 L469.60,515.27 L469.85,515.13 L470.10,514.83 L470.35,514.81 L470.60,514.85 L470.85,515.11 L471.10,515.30 L471.35,514.87 L471.60,515.28 L471.85,515.04 L472.10,515.17 L472.35,514.89 L472.60,515.18 L472.85,515.17 L473.10,514.89 L473.35,514.96 L473.60,514.80 L473.85,515.33 L474.10,515.32 L474.35,514.99 L474.60,515.10 L474.85,514.86 L475.10,515.12 L475.35,515.37 L475.60,515.11 L475.85,515.25 L476.10,514.92 L476.35,514.91 L476.60,514.88 L476.85,515.33 L477.10,515.06 L477.35,515.28 L477.60,514.81 L477.85,515.31 L478.10,515.01 L478.35,514.97 L478.60,515.28 L478.85,515.05 L479.10,515.33 L479.35,515.37 L479.60,515.23 L479.85,515.35 L480.10,515.14 L480.35,514.99 L480.60,514.84 L480.85,515.24 L481.10,515.11 L481.35,514.99 L481.60,515.21 L481.85,515.21 L482.10,515.18 L482.35,514.90 L482.60,515.18 L482.85,514.94 L483.10,515.31 L483.35,515.21 L483.60,515.23 L483.85,515.26 L484.10,515.31 L484.35,515.16 L484.60,514.91 L484.85,515.00 L485.10,514.80 L485.35,515.21 L485.60,515.22 L485.85,515.25 L486.10,515.10 L486.35,515.33 L486.60,514.92 L486.85,515.15 L487.10,515.37 L487.35,515.10 L487.60,515.14 L487.85,515.28 L488.10,515.22 L488.35,515.00 L488.60,514.80 L488.85,515.04 L489.10,515.25 L489.35,515.38 L489.60,515.21 L489.85,515.26 L490.10,515.15 L490.35,515.13 L490.60,515.23 L490.85,515.30 L491.10,514.84 L491.35,514.83 L491.60,514.97 L491.85,514.84 L492.10,515.06 L492.35,514.96 L492.60,514.57 L492.85,513.53 L493.10,512.70 L493.35,512.15 L493.60,512.08 L493.85,512.57 L494.10,513.34 L494.35,514.34 L494.60,514.86 L494.85,515.26 L495.10,515.30 L495.35,515.40 L495.60,515.25 L495.85,515.29 L496.10,515.28 L496.35,515.30 L496.60,515.21 L496.85,515.30 L497.10,514.82 L497.35,515.36 L497.60,515.39 L497.85,514.85 L498.10,508.32 L498.35,515.21 L498.60,506.57 L498.85,511.35 L499.10,509.36 L499.35,507.72 L499.60,510.41 L499.85,510.48 L500.10,514.83 L500.35,511.89 L500.60,508.79 L500.85,508.11 L501.10,510.52 L501.35,514.13 L501.60,507.39 L501.85,508.20 L502.10,513.86 L502.35,512.08 L502.60,506.82 L502.85,512.49 L503.10,513.99 L503.35,509.95 L503.60,510.98 L503.85,509.06 L504.10,507.97 L504.35,506.46 L504.60,498.37 L504.85,483.17 L505.10,470.45 L505.35,460.60 L505.60,454.37 L505.85,455.26 L506.10,462.31 L506.35,472.78 L506.60,486.02 L506.85,501.68 L507.10,500.96 L507.35,500.10 L507.60,501.84 L507.85,504.85 L508.10,508.84 L508.35,507.57 L508.60,505.20 L508.85,498.85 L509.10,493.67 L509.35,489.87 L509.60,488.00 L509.85,489.87 L510.10,493.67 L510.35,498.85 L510.60,505.20 L510.85,511.37 L511.10,512.04 L511.35,512.71 L511.60,513.38 L511.79999999999995,515.8 Z" fill="#c0001f" stroke="none"/>
<rect x="51.0" y="381.8" width="461.4" height="134.3" fill="none" stroke="#1a1a1a" stroke-width="1.2"/>
<line x1="51.0" y1="448.8" x2="512.4" y2="448.8" stroke="#1a1a1a" stroke-width="1.2"/>
<text x="57.30" y="462.30" font-size="9.4" font-style="italic" fill="#1c1c1c" text-anchor="start"><tspan textLength="23.20" lengthAdjust="spacingAndGlyphs">Tbx21</tspan><tspan font-size="6.58" dy="-3.76" font-style="normal" textLength="9.60" lengthAdjust="spacingAndGlyphs">+/+</tspan></text>
<text transform="translate(28.20,448.80) rotate(-90)" font-size="10.3" text-anchor="middle" fill="#2a2a2a" textLength="80.9" lengthAdjust="spacingAndGlyphs">Pseudo-bulk coverage</text>
<text x="162.60" y="526.00" font-size="9.0" text-anchor="middle" fill="#2a2a2a" textLength="43.00" lengthAdjust="spacingAndGlyphs" >117860000</text>
<line x1="162.29999999999998" y1="516.2" x2="162.29999999999998" y2="518.0" stroke="#333" stroke-width="0.7"/>
<text x="280.80" y="526.00" font-size="9.0" text-anchor="middle" fill="#2a2a2a" textLength="43.00" lengthAdjust="spacingAndGlyphs" >117900000</text>
<line x1="280.5" y1="516.2" x2="280.5" y2="518.0" stroke="#333" stroke-width="0.7"/>
<text x="398.60" y="526.00" font-size="9.0" text-anchor="middle" fill="#2a2a2a" textLength="43.00" lengthAdjust="spacingAndGlyphs" >117940000</text>
<line x1="398.3" y1="516.2" x2="398.3" y2="518.0" stroke="#333" stroke-width="0.7"/>
<rect x="51.0" y="529.4" width="461.4" height="38.0" fill="none" stroke="#1a1a1a" stroke-width="1.2"/>
<line x1="47.4" y1="535.7" x2="51.0" y2="535.7" stroke="#1a1a1a" stroke-width="0.9"/>
<text x="44.60" y="538.40" font-size="8.6" text-anchor="end" fill="#2a2a2a" textLength="23.00" lengthAdjust="spacingAndGlyphs" >Peaks</text>
<line x1="47.4" y1="548.6" x2="51.0" y2="548.6" stroke="#1a1a1a" stroke-width="0.9"/>
<text x="44.60" y="551.10" font-size="8.6" text-anchor="end" fill="#2a2a2a" textLength="20.60" lengthAdjust="spacingAndGlyphs" >T-bet</text>
<line x1="47.4" y1="561.5" x2="51.0" y2="561.5" stroke="#1a1a1a" stroke-width="0.9"/>
<text x="44.60" y="564.00" font-size="8.6" text-anchor="end" fill="#2a2a2a" textLength="25.60" lengthAdjust="spacingAndGlyphs" >Genes</text>
<line x1="55.4" y1="536.3" x2="62.3" y2="536.3" stroke="#c4c4c4" stroke-width="1.5"/>
<line x1="70" y1="536.3" x2="77.7" y2="536.3" stroke="#c4c4c4" stroke-width="1.5"/>
<line x1="91.5" y1="536.3" x2="99.2" y2="536.3" stroke="#c4c4c4" stroke-width="1.5"/>
<line x1="113.8" y1="536.3" x2="121.5" y2="536.3" stroke="#c4c4c4" stroke-width="1.5"/>
<line x1="133.5" y1="536.3" x2="139.5" y2="536.3" stroke="#c4c4c4" stroke-width="1.5"/>
<line x1="150.7" y1="536.3" x2="156.5" y2="536.3" stroke="#c4c4c4" stroke-width="1.5"/>
<line x1="205.9" y1="536.3" x2="211.5" y2="536.3" stroke="#c4c4c4" stroke-width="1.5"/>
<line x1="223" y1="536.3" x2="228.5" y2="536.3" stroke="#c4c4c4" stroke-width="1.5"/>
<line x1="233.8" y1="536.3" x2="239.2" y2="536.3" stroke="#c4c4c4" stroke-width="1.5"/>
<line x1="242.5" y1="536.3" x2="247.9" y2="536.3" stroke="#c4c4c4" stroke-width="1.5"/>
<line x1="251.9" y1="536.3" x2="257.3" y2="536.3" stroke="#c4c4c4" stroke-width="1.5"/>
<line x1="275.4" y1="536.3" x2="286.9" y2="536.3" stroke="#c4c4c4" stroke-width="1.5"/>
<line x1="289.2" y1="536.3" x2="295.4" y2="536.3" stroke="#c4c4c4" stroke-width="1.5"/>
<line x1="298.5" y1="536.3" x2="316.9" y2="536.3" stroke="#c4c4c4" stroke-width="1.5"/>
<line x1="319.2" y1="536.3" x2="331.5" y2="536.3" stroke="#c4c4c4" stroke-width="1.5"/>
<line x1="334.6" y1="536.3" x2="342.3" y2="536.3" stroke="#c4c4c4" stroke-width="1.5"/>
<line x1="343.1" y1="536.3" x2="347.7" y2="536.3" stroke="#c4c4c4" stroke-width="1.5"/>
<line x1="353" y1="536.3" x2="360" y2="536.3" stroke="#c4c4c4" stroke-width="1.5"/>
<line x1="361.5" y1="536.3" x2="367.7" y2="536.3" stroke="#c4c4c4" stroke-width="1.5"/>
<line x1="374.6" y1="536.3" x2="380.8" y2="536.3" stroke="#c4c4c4" stroke-width="1.5"/>
<line x1="390.8" y1="536.3" x2="395.4" y2="536.3" stroke="#c4c4c4" stroke-width="1.5"/>
<line x1="400" y1="536.3" x2="405.4" y2="536.3" stroke="#c4c4c4" stroke-width="1.5"/>
<line x1="411" y1="536.3" x2="416.3" y2="536.3" stroke="#c4c4c4" stroke-width="1.5"/>
<line x1="436.5" y1="536.3" x2="448.5" y2="536.3" stroke="#c4c4c4" stroke-width="1.5"/>
<line x1="450.8" y1="536.3" x2="455.4" y2="536.3" stroke="#c4c4c4" stroke-width="1.5"/>
<line x1="457.7" y1="536.3" x2="463.5" y2="536.3" stroke="#c4c4c4" stroke-width="1.5"/>
<line x1="465.8" y1="536.3" x2="470.4" y2="536.3" stroke="#c4c4c4" stroke-width="1.5"/>
<line x1="491.2" y1="536.3" x2="497" y2="536.3" stroke="#c4c4c4" stroke-width="1.5"/>
<line x1="502.7" y1="536.3" x2="508.5" y2="536.3" stroke="#c4c4c4" stroke-width="1.5"/>
<line x1="160.8" y1="536" x2="166.8" y2="536" stroke="#111" stroke-width="2"/>
<line x1="172.9" y1="536" x2="178.3" y2="536" stroke="#111" stroke-width="2"/>
<line x1="180.3" y1="536" x2="185.7" y2="536" stroke="#111" stroke-width="2"/>
<line x1="189" y1="536" x2="194.4" y2="536" stroke="#111" stroke-width="2"/>
<line x1="196.8" y1="536" x2="202.5" y2="536" stroke="#111" stroke-width="2"/>
<line x1="423.5" y1="536.3" x2="429" y2="536.3" stroke="#999" stroke-width="1.5"/>
<rect x="418.8" y="531.2" width="15.2" height="9.0" rx="2.2" fill="none" stroke="#111" stroke-width="1.2"/>
<line x1="93.1" y1="544.7" x2="93.1" y2="551.1" stroke="#333" stroke-width="0.9"/>
<line x1="155.5" y1="544.7" x2="155.5" y2="551.1" stroke="#333" stroke-width="0.9"/>
<line x1="165.2" y1="544.7" x2="165.2" y2="551.1" stroke="#333" stroke-width="0.9"/>
<line x1="224.4" y1="544.7" x2="224.4" y2="551.1" stroke="#444" stroke-width="0.9"/>
<line x1="227.1" y1="544.7" x2="227.1" y2="551.1" stroke="#444" stroke-width="0.9"/>
<line x1="290.4" y1="544.7" x2="290.4" y2="551.1" stroke="#333" stroke-width="0.9"/>
<line x1="322.6" y1="544.7" x2="322.6" y2="551.1" stroke="#333" stroke-width="2.0"/>
<line x1="336.9" y1="544.7" x2="336.9" y2="551.1" stroke="#555" stroke-width="0.9"/>
<line x1="363.3" y1="544.7" x2="363.3" y2="551.1" stroke="#444" stroke-width="0.9"/>
<line x1="365.4" y1="544.7" x2="365.4" y2="551.1" stroke="#444" stroke-width="0.9"/>
<line x1="375.2" y1="544.7" x2="375.2" y2="551.1" stroke="#111" stroke-width="1.3"/>
<line x1="425.8" y1="544.7" x2="425.8" y2="551.1" stroke="#444" stroke-width="0.9"/>
<line x1="449.6" y1="544.7" x2="449.6" y2="551.1" stroke="#333" stroke-width="0.9"/>
<line x1="453.1" y1="544.7" x2="453.1" y2="551.1" stroke="#333" stroke-width="0.9"/>
<line x1="109.8" y1="561.7" x2="438" y2="561.7" stroke="#111" stroke-width="1.8"/>
<line x1="219.3" y1="559.8" x2="219.3" y2="563.6" stroke="#222" stroke-width="0.7"/>
<line x1="261.5" y1="559.8" x2="261.5" y2="563.6" stroke="#222" stroke-width="0.7"/>
<line x1="264.2" y1="559.8" x2="264.2" y2="563.6" stroke="#222" stroke-width="0.7"/>
<line x1="266.9" y1="559.8" x2="266.9" y2="563.6" stroke="#222" stroke-width="0.7"/>
<line x1="269.6" y1="559.8" x2="269.6" y2="563.6" stroke="#222" stroke-width="0.7"/>
<line x1="272.3" y1="559.8" x2="272.3" y2="563.6" stroke="#222" stroke-width="0.7"/>
<line x1="275" y1="559.8" x2="275" y2="563.6" stroke="#222" stroke-width="0.7"/>
<line x1="280.4" y1="559.8" x2="280.4" y2="563.6" stroke="#222" stroke-width="0.7"/>
<line x1="281.7" y1="559.8" x2="281.7" y2="563.6" stroke="#222" stroke-width="0.7"/>
<line x1="288.5" y1="559.8" x2="288.5" y2="563.6" stroke="#222" stroke-width="0.7"/>
<line x1="291.2" y1="559.8" x2="291.2" y2="563.6" stroke="#222" stroke-width="0.7"/>
<line x1="293.8" y1="559.8" x2="293.8" y2="563.6" stroke="#222" stroke-width="0.7"/>
<line x1="296.5" y1="559.8" x2="296.5" y2="563.6" stroke="#222" stroke-width="0.7"/>
<line x1="303.3" y1="559.8" x2="303.3" y2="563.6" stroke="#222" stroke-width="0.7"/>
<line x1="306" y1="559.8" x2="306" y2="563.6" stroke="#222" stroke-width="0.7"/>
<line x1="309.5" y1="559.8" x2="309.5" y2="563.6" stroke="#222" stroke-width="0.7"/>
<line x1="312.7" y1="559.8" x2="312.7" y2="563.6" stroke="#222" stroke-width="0.7"/>
<line x1="318" y1="559.8" x2="318" y2="563.6" stroke="#222" stroke-width="0.7"/>
<line x1="320.8" y1="559.8" x2="320.8" y2="563.6" stroke="#222" stroke-width="0.7"/>
<line x1="337" y1="559.8" x2="337" y2="563.6" stroke="#222" stroke-width="0.7"/>
<line x1="347.7" y1="559.8" x2="347.7" y2="563.6" stroke="#222" stroke-width="0.7"/>
<line x1="349.9" y1="559.8" x2="349.9" y2="563.6" stroke="#222" stroke-width="0.7"/>
<line x1="355.8" y1="559.8" x2="355.8" y2="563.6" stroke="#222" stroke-width="0.7"/>
<line x1="357.7" y1="559.8" x2="357.7" y2="563.6" stroke="#222" stroke-width="0.7"/>
<line x1="388" y1="559.8" x2="388" y2="563.6" stroke="#222" stroke-width="0.7"/>
<line x1="393.5" y1="559.8" x2="393.5" y2="563.6" stroke="#222" stroke-width="0.7"/>
<line x1="398.8" y1="559.8" x2="398.8" y2="563.6" stroke="#222" stroke-width="0.7"/>
<line x1="407" y1="559.8" x2="407" y2="563.6" stroke="#222" stroke-width="0.7"/>
<line x1="410.4" y1="559.8" x2="410.4" y2="563.6" stroke="#222" stroke-width="0.7"/>
<line x1="412.3" y1="559.8" x2="412.3" y2="563.6" stroke="#222" stroke-width="0.7"/>
<line x1="416.4" y1="559.8" x2="416.4" y2="563.6" stroke="#222" stroke-width="0.7"/>
<line x1="422" y1="559.8" x2="422" y2="563.6" stroke="#222" stroke-width="0.7"/>
<line x1="425.8" y1="559.8" x2="425.8" y2="563.6" stroke="#222" stroke-width="0.7"/>
<line x1="435.8" y1="559.8" x2="435.8" y2="563.6" stroke="#222" stroke-width="0.7"/>
<rect x="438" y="559.7" width="15.5" height="4.2" fill="#111"/>
<circle cx="183.8" cy="561.7" r="1.9" fill="#111"/>
<text x="101.90" y="564.70" font-size="8.9" text-anchor="end" font-style="italic" fill="#2a2a2a" textLength="20.00" lengthAdjust="spacingAndGlyphs" >Nos1</text>
<text x="499.20" y="564.80" font-size="8.9" text-anchor="end" font-style="italic" fill="#2a2a2a" textLength="30.00" lengthAdjust="spacingAndGlyphs" >Fbxo21</text>
<line x1="507.2" y1="559.2" x2="507.2" y2="563.8" stroke="#111" stroke-width="1.1"/>
<line x1="507.2" y1="561.5" x2="512" y2="561.5" stroke="#111" stroke-width="1.3"/>
<rect x="51.0" y="571.8" width="461.4" height="66.80" fill="none" stroke="#1a1a1a" stroke-width="1.2"/>
<line x1="47.4" y1="574.4" x2="51.0" y2="574.4" stroke="#1a1a1a" stroke-width="0.9"/>
<text x="44.40" y="577.50" font-size="9.4" text-anchor="end" fill="#2a2a2a" textLength="5.40" lengthAdjust="spacingAndGlyphs" >0</text>
<line x1="47.4" y1="638.2" x2="51.0" y2="638.2" stroke="#1a1a1a" stroke-width="0.9"/>
<text x="44.40" y="640.90" font-size="9.4" text-anchor="end" fill="#2a2a2a" textLength="10.50" lengthAdjust="spacingAndGlyphs" >50</text>
<text x="57.30" y="589.90" font-size="9.4" font-style="italic" fill="#1c1c1c" text-anchor="start"><tspan textLength="23.20" lengthAdjust="spacingAndGlyphs">Tbx21</tspan><tspan font-size="6.58" dy="-3.76" font-style="normal" textLength="9.50" lengthAdjust="spacingAndGlyphs">–/–</tspan></text>
<rect x="51.0" y="642.3" width="461.4" height="67.00" fill="none" stroke="#1a1a1a" stroke-width="1.2"/>
<line x1="47.4" y1="645.4" x2="51.0" y2="645.4" stroke="#1a1a1a" stroke-width="0.9"/>
<text x="44.40" y="648.40" font-size="9.4" text-anchor="end" fill="#2a2a2a" textLength="5.40" lengthAdjust="spacingAndGlyphs" >0</text>
<line x1="47.4" y1="709.3" x2="51.0" y2="709.3" stroke="#1a1a1a" stroke-width="0.9"/>
<text x="44.40" y="711.60" font-size="9.4" text-anchor="end" fill="#2a2a2a" textLength="10.50" lengthAdjust="spacingAndGlyphs" >50</text>
<text x="57.30" y="656.80" font-size="9.4" font-style="italic" fill="#1c1c1c" text-anchor="start"><tspan textLength="23.20" lengthAdjust="spacingAndGlyphs">Tbx21</tspan><tspan font-size="6.58" dy="-3.76" font-style="normal" textLength="9.50" lengthAdjust="spacingAndGlyphs">+/+</tspan></text>
<text transform="translate(28.30,641.30) rotate(-90)" font-size="10.3" text-anchor="middle" fill="#2a2a2a" textLength="69" lengthAdjust="spacingAndGlyphs">Accessible cells (%)</text>
<path d="M182.50,574.60 A51.50,27.40 0 0 0 285.50,574.60" fill="none" stroke="#cccccc" stroke-width="1.25"/>
<path d="M182.50,574.60 A55.10,31.40 0 0 0 292.70,574.60" fill="none" stroke="#cccccc" stroke-width="1.25"/>
<path d="M182.50,574.60 A77.60,28.80 0 0 0 337.70,574.60" fill="none" stroke="#cccccc" stroke-width="1.25"/>
<path d="M182.50,574.60 A81.90,48.80 0 0 0 346.30,574.60" fill="none" stroke="#cccccc" stroke-width="1.25"/>
<path d="M182.50,574.60 A4.05,24.40 0 0 0 190.60,574.60" fill="none" stroke="#cccccc" stroke-width="1.25"/>
<path d="M426.60,575.00 A9.70,43.20 0 0 0 446.00,575.00" fill="none" stroke="#cccccc" stroke-width="1.25"/>
<linearGradient id="ag1" gradientUnits="userSpaceOnUse" x1="183" y1="0" x2="200" y2="0"><stop offset="0" stop-color="#aaa"/><stop offset="1" stop-color="#111"/></linearGradient>
<linearGradient id="ag2" gradientUnits="userSpaceOnUse" x1="183" y1="0" x2="200" y2="0"><stop offset="0" stop-color="#bbb"/><stop offset="1" stop-color="#5a5a5a"/></linearGradient>
<path d="M136.20,645.40 A23.15,28.10 0 0 0 182.50,645.40" fill="none" stroke="#c6c6c6" stroke-width="1.0"/>
<path d="M182.50,645.40 A8.75,29.60 0 0 0 200.00,645.40" fill="none" stroke="#b8b8b8" stroke-width="1.0"/>
<path d="M182.50,645.40 A12.60,24.60 0 0 0 207.70,645.40" fill="none" stroke="#c4c4c4" stroke-width="1.0"/>
<path d="M182.50,645.40 A21.50,28.60 0 0 0 225.50,645.40" fill="none" stroke="#c8c8c8" stroke-width="1.0"/>
<path d="M182.50,645.40 A55.25,32.00 0 0 0 293.00,645.40" fill="none" stroke="#cdcdcd" stroke-width="1.0"/>
<path d="M182.50,645.40 A70.20,48.10 0 0 0 322.90,645.40" fill="none" stroke="#c6c6c6" stroke-width="1.0"/>
<path d="M182.50,645.40 A72.55,53.60 0 0 0 327.60,645.40" fill="none" stroke="#c0c0c0" stroke-width="1.0"/>
<path d="M182.50,645.40 A67.75,38.60 0 0 0 318.00,645.40" fill="none" stroke="#cccccc" stroke-width="1.0"/>
<path d="M163.50,645.40 A9.50,26.60 0 0 0 182.50,645.40" fill="none" stroke="#666" stroke-width="1.1"/>
<path d="M175.40,645.40 A3.55,31.20 0 0 0 182.50,645.40" fill="none" stroke="#999" stroke-width="1.0"/>
<path d="M182.50,645.40 A4.50,38.90 0 0 0 191.50,645.40" fill="none" stroke="#555" stroke-width="1.1"/>
<path d="M182.50,645.40 A86.80,28.30 0 0 0 356.10,645.40" fill="none" stroke="#727272" stroke-width="1.1"/>
<path d="M182.50,645.40 A81.25,57.60 0 0 0 345.00,645.40" fill="none" stroke="url(#ag2)" stroke-width="1.0"/>
<path d="M182.50,645.40 A81.90,60.40 0 0 0 346.30,645.40" fill="none" stroke="url(#ag1)" stroke-width="1.4"/>
<rect x="51.0" y="381.8" width="461.4" height="134.3" fill="none" stroke="#1a1a1a" stroke-width="1.2"/>
<rect x="51.0" y="529.4" width="461.4" height="38.0" fill="none" stroke="#1a1a1a" stroke-width="1.2"/>
<rect x="51.0" y="571.8" width="461.4" height="66.8" fill="none" stroke="#1a1a1a" stroke-width="1.2"/>
<rect x="51.0" y="642.3" width="461.4" height="67.0" fill="none" stroke="#1a1a1a" stroke-width="1.2"/>
<line x1="51.0" y1="448.8" x2="512.4" y2="448.8" stroke="#1a1a1a" stroke-width="1.2"/>
<text x="109.80" y="720.20" font-size="9.0" text-anchor="middle" fill="#a3284a" textLength="18.60" lengthAdjust="spacingAndGlyphs" >TSS1</text>
<text x="182.50" y="720.20" font-size="9.0" text-anchor="middle" fill="#a3284a" textLength="18.60" lengthAdjust="spacingAndGlyphs" >TSS2</text>
<text x="426.60" y="720.20" font-size="9.0" text-anchor="middle" fill="#a3284a" textLength="18.60" lengthAdjust="spacingAndGlyphs" >TSS3</text>
<text x="438.20" y="667.80" font-size="8.9" fill="#2a2a2a" textLength="66.20" lengthAdjust="spacingAndGlyphs" >Correlation coef.</text>
<linearGradient id="cg" x1="0" x2="1" y1="0" y2="0"><stop offset="0" stop-color="#fff"/><stop offset="0.45" stop-color="#a8a8a8"/><stop offset="0.8" stop-color="#555"/><stop offset="1" stop-color="#1e1e1e"/></linearGradient>
<rect x="433.8" y="674" width="76.4" height="9.8" fill="url(#cg)"/>
<line x1="496.3" y1="674" x2="496.3" y2="683.8" stroke="#fff" stroke-width="0.7" stroke-opacity="0.8"/>
<line x1="441.5" y1="674" x2="441.5" y2="683.8" stroke="#fff" stroke-width="0.6" stroke-opacity="0.5"/>
<text x="444.10" y="693.90" font-size="8.9" text-anchor="middle" fill="#2a2a2a" textLength="22.40" lengthAdjust="spacingAndGlyphs" >0.100</text>
<text x="494.10" y="693.90" font-size="8.9" text-anchor="middle" fill="#2a2a2a" textLength="22.40" lengthAdjust="spacingAndGlyphs" >0.175</text>
<rect x="0.5" y="0.5" width="519" height="729" fill="none" stroke="#505050" stroke-width="1"/>
</svg>
</body></html>
